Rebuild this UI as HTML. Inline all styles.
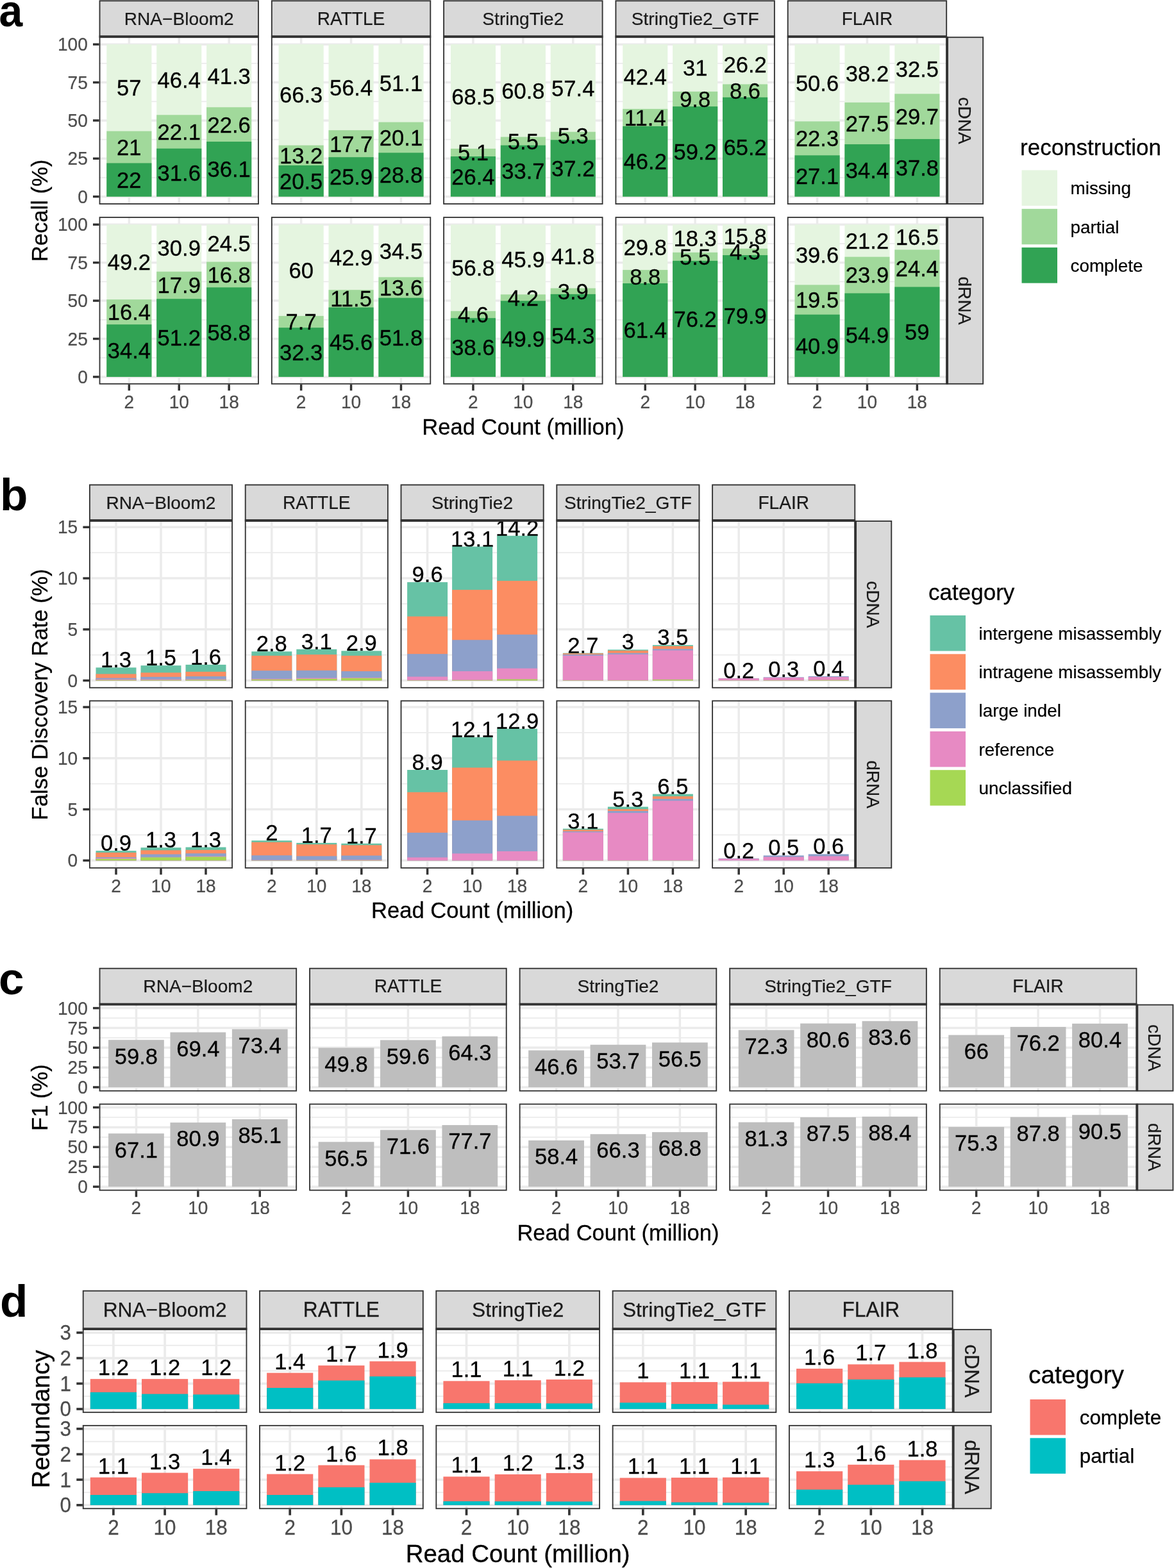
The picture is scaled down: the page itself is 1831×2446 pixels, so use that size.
<!DOCTYPE html>
<html lang="en">
<head>
<meta charset="utf-8">
<title>Figure: transcriptome assembly benchmark</title>
<style>
html,body{margin:0;padding:0;background:#fff;}
body{width:1831px;height:2446px;overflow:hidden;}
svg{display:block;font-family:'Liberation Sans', 'DejaVu Sans', sans-serif;}
svg text{white-space:pre;}
</style>
</head>
<body>
<svg width="1831" height="2446" viewBox="0 0 1831 2446" shape-rendering="auto">
<rect x="0" y="0" width="1831" height="2446" fill="#fff"/>
<g>
<rect x="154.6" y="57.3" width="249.3" height="261.7" fill="#fff"/>
<line x1="154.6" y1="277.01" x2="403.9" y2="277.01" stroke="#EBEBEB" stroke-width="1.75"/>
<line x1="154.6" y1="217.64" x2="403.9" y2="217.64" stroke="#EBEBEB" stroke-width="1.75"/>
<line x1="154.6" y1="158.26" x2="403.9" y2="158.26" stroke="#EBEBEB" stroke-width="1.75"/>
<line x1="154.6" y1="98.89" x2="403.9" y2="98.89" stroke="#EBEBEB" stroke-width="1.75"/>
<line x1="154.6" y1="306.7" x2="403.9" y2="306.7" stroke="#EBEBEB" stroke-width="3.5"/>
<line x1="154.6" y1="247.32" x2="403.9" y2="247.32" stroke="#EBEBEB" stroke-width="3.5"/>
<line x1="154.6" y1="187.95" x2="403.9" y2="187.95" stroke="#EBEBEB" stroke-width="3.5"/>
<line x1="154.6" y1="128.57" x2="403.9" y2="128.57" stroke="#EBEBEB" stroke-width="3.5"/>
<line x1="154.6" y1="69.2" x2="403.9" y2="69.2" stroke="#EBEBEB" stroke-width="3.5"/>
<line x1="201.34" y1="57.3" x2="201.34" y2="319" stroke="#EBEBEB" stroke-width="3.5"/>
<line x1="279.25" y1="57.3" x2="279.25" y2="319" stroke="#EBEBEB" stroke-width="3.5"/>
<line x1="357.16" y1="57.3" x2="357.16" y2="319" stroke="#EBEBEB" stroke-width="3.5"/>
<rect x="166.29" y="69.2" width="70.12" height="237.5" fill="#E5F5E0"/>
<rect x="166.29" y="204.57" width="70.12" height="102.12" fill="#A1D99B"/>
<rect x="166.29" y="254.45" width="70.12" height="52.25" fill="#31A354"/>
<text transform="translate(201.34 292.96) scale(1 1.035)" font-size="34.6" fill="#000" stroke="#000" stroke-width="0.27" text-anchor="middle">22</text>
<text transform="translate(201.34 241.9) scale(1 1.035)" font-size="34.6" fill="#000" stroke="#000" stroke-width="0.27" text-anchor="middle">21</text>
<text transform="translate(201.34 149.27) scale(1 1.035)" font-size="34.6" fill="#000" stroke="#000" stroke-width="0.27" text-anchor="middle">57</text>
<rect x="244.19" y="69.2" width="70.12" height="237.5" fill="#E5F5E0"/>
<rect x="244.19" y="179.29" width="70.12" height="127.41" fill="#A1D99B"/>
<rect x="244.19" y="231.72" width="70.12" height="74.98" fill="#31A354"/>
<text transform="translate(279.25 281.6) scale(1 1.035)" font-size="34.6" fill="#000" stroke="#000" stroke-width="0.27" text-anchor="middle">31.6</text>
<text transform="translate(279.25 217.89) scale(1 1.035)" font-size="34.6" fill="#000" stroke="#000" stroke-width="0.27" text-anchor="middle">22.1</text>
<text transform="translate(279.25 136.63) scale(1 1.035)" font-size="34.6" fill="#000" stroke="#000" stroke-width="0.27" text-anchor="middle">46.4</text>
<rect x="322.1" y="69.2" width="70.12" height="237.5" fill="#E5F5E0"/>
<rect x="322.1" y="167.29" width="70.12" height="139.41" fill="#A1D99B"/>
<rect x="322.1" y="220.96" width="70.12" height="85.74" fill="#31A354"/>
<text transform="translate(357.16 276.22) scale(1 1.035)" font-size="34.6" fill="#000" stroke="#000" stroke-width="0.27" text-anchor="middle">36.1</text>
<text transform="translate(357.16 206.51) scale(1 1.035)" font-size="34.6" fill="#000" stroke="#000" stroke-width="0.27" text-anchor="middle">22.6</text>
<text transform="translate(357.16 130.63) scale(1 1.035)" font-size="34.6" fill="#000" stroke="#000" stroke-width="0.27" text-anchor="middle">41.3</text>
<rect x="155.53" y="58.22" width="247.45" height="259.85" fill="none" stroke="#333333" stroke-width="1.85"/>
<line x1="145" y1="306.7" x2="154.6" y2="306.7" stroke="#333333" stroke-width="3.5"/>
<text transform="translate(136.8 316.76) scale(1 1.035)" font-size="28.1" fill="#4D4D4D" stroke="#4D4D4D" stroke-width="0.22" text-anchor="end">0</text>
<line x1="145" y1="247.32" x2="154.6" y2="247.32" stroke="#333333" stroke-width="3.5"/>
<text transform="translate(136.8 257.38) scale(1 1.035)" font-size="28.1" fill="#4D4D4D" stroke="#4D4D4D" stroke-width="0.22" text-anchor="end">25</text>
<line x1="145" y1="187.95" x2="154.6" y2="187.95" stroke="#333333" stroke-width="3.5"/>
<text transform="translate(136.8 198.01) scale(1 1.035)" font-size="28.1" fill="#4D4D4D" stroke="#4D4D4D" stroke-width="0.22" text-anchor="end">50</text>
<line x1="145" y1="128.57" x2="154.6" y2="128.57" stroke="#333333" stroke-width="3.5"/>
<text transform="translate(136.8 138.63) scale(1 1.035)" font-size="28.1" fill="#4D4D4D" stroke="#4D4D4D" stroke-width="0.22" text-anchor="end">75</text>
<line x1="145" y1="69.2" x2="154.6" y2="69.2" stroke="#333333" stroke-width="3.5"/>
<text transform="translate(136.8 79.26) scale(1 1.035)" font-size="28.1" fill="#4D4D4D" stroke="#4D4D4D" stroke-width="0.22" text-anchor="end">100</text>
<rect x="154.6" y="0.4" width="249.3" height="56.9" fill="#D9D9D9"/>
<rect x="155.53" y="1.33" width="247.45" height="55.05" fill="none" stroke="#333333" stroke-width="1.85"/>
<line x1="154.6" y1="57.3" x2="403.9" y2="57.3" stroke="#333333" stroke-width="3.4"/>
<text x="279.25" y="38.91" font-size="28.1" fill="#1A1A1A" stroke="#1A1A1A" stroke-width="0.22" text-anchor="middle">RNA−Bloom2</text>
<rect x="422.9" y="57.3" width="249.3" height="261.7" fill="#fff"/>
<line x1="422.9" y1="277.01" x2="672.2" y2="277.01" stroke="#EBEBEB" stroke-width="1.75"/>
<line x1="422.9" y1="217.64" x2="672.2" y2="217.64" stroke="#EBEBEB" stroke-width="1.75"/>
<line x1="422.9" y1="158.26" x2="672.2" y2="158.26" stroke="#EBEBEB" stroke-width="1.75"/>
<line x1="422.9" y1="98.89" x2="672.2" y2="98.89" stroke="#EBEBEB" stroke-width="1.75"/>
<line x1="422.9" y1="306.7" x2="672.2" y2="306.7" stroke="#EBEBEB" stroke-width="3.5"/>
<line x1="422.9" y1="247.32" x2="672.2" y2="247.32" stroke="#EBEBEB" stroke-width="3.5"/>
<line x1="422.9" y1="187.95" x2="672.2" y2="187.95" stroke="#EBEBEB" stroke-width="3.5"/>
<line x1="422.9" y1="128.57" x2="672.2" y2="128.57" stroke="#EBEBEB" stroke-width="3.5"/>
<line x1="422.9" y1="69.2" x2="672.2" y2="69.2" stroke="#EBEBEB" stroke-width="3.5"/>
<line x1="469.64" y1="57.3" x2="469.64" y2="319" stroke="#EBEBEB" stroke-width="3.5"/>
<line x1="547.55" y1="57.3" x2="547.55" y2="319" stroke="#EBEBEB" stroke-width="3.5"/>
<line x1="625.46" y1="57.3" x2="625.46" y2="319" stroke="#EBEBEB" stroke-width="3.5"/>
<rect x="434.59" y="69.2" width="70.12" height="237.5" fill="#E5F5E0"/>
<rect x="434.59" y="226.66" width="70.12" height="80.04" fill="#A1D99B"/>
<rect x="434.59" y="258.01" width="70.12" height="48.69" fill="#31A354"/>
<text transform="translate(469.64 294.74) scale(1 1.035)" font-size="34.6" fill="#000" stroke="#000" stroke-width="0.27" text-anchor="middle">20.5</text>
<text transform="translate(469.64 254.72) scale(1 1.035)" font-size="34.6" fill="#000" stroke="#000" stroke-width="0.27" text-anchor="middle">13.2</text>
<text transform="translate(469.64 160.32) scale(1 1.035)" font-size="34.6" fill="#000" stroke="#000" stroke-width="0.27" text-anchor="middle">66.3</text>
<rect x="512.49" y="69.2" width="70.12" height="237.5" fill="#E5F5E0"/>
<rect x="512.49" y="203.15" width="70.12" height="103.55" fill="#A1D99B"/>
<rect x="512.49" y="245.19" width="70.12" height="61.51" fill="#31A354"/>
<text transform="translate(547.55 288.33) scale(1 1.035)" font-size="34.6" fill="#000" stroke="#000" stroke-width="0.27" text-anchor="middle">25.9</text>
<text transform="translate(547.55 236.56) scale(1 1.035)" font-size="34.6" fill="#000" stroke="#000" stroke-width="0.27" text-anchor="middle">17.7</text>
<text transform="translate(547.55 148.56) scale(1 1.035)" font-size="34.6" fill="#000" stroke="#000" stroke-width="0.27" text-anchor="middle">56.4</text>
<rect x="590.4" y="69.2" width="70.12" height="237.5" fill="#E5F5E0"/>
<rect x="590.4" y="190.56" width="70.12" height="116.14" fill="#A1D99B"/>
<rect x="590.4" y="238.3" width="70.12" height="68.4" fill="#31A354"/>
<text transform="translate(625.46 284.89) scale(1 1.035)" font-size="34.6" fill="#000" stroke="#000" stroke-width="0.27" text-anchor="middle">28.8</text>
<text transform="translate(625.46 226.82) scale(1 1.035)" font-size="34.6" fill="#000" stroke="#000" stroke-width="0.27" text-anchor="middle">20.1</text>
<text transform="translate(625.46 142.27) scale(1 1.035)" font-size="34.6" fill="#000" stroke="#000" stroke-width="0.27" text-anchor="middle">51.1</text>
<rect x="423.82" y="58.22" width="247.45" height="259.85" fill="none" stroke="#333333" stroke-width="1.85"/>
<rect x="422.9" y="0.4" width="249.3" height="56.9" fill="#D9D9D9"/>
<rect x="423.82" y="1.33" width="247.45" height="55.05" fill="none" stroke="#333333" stroke-width="1.85"/>
<line x1="422.9" y1="57.3" x2="672.2" y2="57.3" stroke="#333333" stroke-width="3.4"/>
<text transform="translate(547.55 38.91) scale(1 1.045)" font-size="28.1" fill="#1A1A1A" stroke="#1A1A1A" stroke-width="0.22" text-anchor="middle">RATTLE</text>
<rect x="691.2" y="57.3" width="249.3" height="261.7" fill="#fff"/>
<line x1="691.2" y1="277.01" x2="940.5" y2="277.01" stroke="#EBEBEB" stroke-width="1.75"/>
<line x1="691.2" y1="217.64" x2="940.5" y2="217.64" stroke="#EBEBEB" stroke-width="1.75"/>
<line x1="691.2" y1="158.26" x2="940.5" y2="158.26" stroke="#EBEBEB" stroke-width="1.75"/>
<line x1="691.2" y1="98.89" x2="940.5" y2="98.89" stroke="#EBEBEB" stroke-width="1.75"/>
<line x1="691.2" y1="306.7" x2="940.5" y2="306.7" stroke="#EBEBEB" stroke-width="3.5"/>
<line x1="691.2" y1="247.32" x2="940.5" y2="247.32" stroke="#EBEBEB" stroke-width="3.5"/>
<line x1="691.2" y1="187.95" x2="940.5" y2="187.95" stroke="#EBEBEB" stroke-width="3.5"/>
<line x1="691.2" y1="128.57" x2="940.5" y2="128.57" stroke="#EBEBEB" stroke-width="3.5"/>
<line x1="691.2" y1="69.2" x2="940.5" y2="69.2" stroke="#EBEBEB" stroke-width="3.5"/>
<line x1="737.94" y1="57.3" x2="737.94" y2="319" stroke="#EBEBEB" stroke-width="3.5"/>
<line x1="815.85" y1="57.3" x2="815.85" y2="319" stroke="#EBEBEB" stroke-width="3.5"/>
<line x1="893.76" y1="57.3" x2="893.76" y2="319" stroke="#EBEBEB" stroke-width="3.5"/>
<rect x="702.89" y="69.2" width="70.12" height="237.5" fill="#E5F5E0"/>
<rect x="702.89" y="231.89" width="70.12" height="74.81" fill="#A1D99B"/>
<rect x="702.89" y="244" width="70.12" height="62.7" fill="#31A354"/>
<text transform="translate(737.94 287.74) scale(1 1.035)" font-size="34.6" fill="#000" stroke="#000" stroke-width="0.27" text-anchor="middle">26.4</text>
<text transform="translate(737.94 250.33) scale(1 1.035)" font-size="34.6" fill="#000" stroke="#000" stroke-width="0.27" text-anchor="middle">5.1</text>
<text transform="translate(737.94 162.93) scale(1 1.035)" font-size="34.6" fill="#000" stroke="#000" stroke-width="0.27" text-anchor="middle">68.5</text>
<rect x="780.79" y="69.2" width="70.12" height="237.5" fill="#E5F5E0"/>
<rect x="780.79" y="213.6" width="70.12" height="93.1" fill="#A1D99B"/>
<rect x="780.79" y="226.66" width="70.12" height="80.04" fill="#31A354"/>
<text transform="translate(815.85 279.07) scale(1 1.035)" font-size="34.6" fill="#000" stroke="#000" stroke-width="0.27" text-anchor="middle">33.7</text>
<text transform="translate(815.85 232.52) scale(1 1.035)" font-size="34.6" fill="#000" stroke="#000" stroke-width="0.27" text-anchor="middle">5.5</text>
<text transform="translate(815.85 153.79) scale(1 1.035)" font-size="34.6" fill="#000" stroke="#000" stroke-width="0.27" text-anchor="middle">60.8</text>
<rect x="858.7" y="69.2" width="70.12" height="237.5" fill="#E5F5E0"/>
<rect x="858.7" y="205.66" width="70.12" height="101.04" fill="#A1D99B"/>
<rect x="858.7" y="218.26" width="70.12" height="88.44" fill="#31A354"/>
<text transform="translate(893.76 274.87) scale(1 1.035)" font-size="34.6" fill="#000" stroke="#000" stroke-width="0.27" text-anchor="middle">37.2</text>
<text transform="translate(893.76 224.35) scale(1 1.035)" font-size="34.6" fill="#000" stroke="#000" stroke-width="0.27" text-anchor="middle">5.3</text>
<text transform="translate(893.76 149.82) scale(1 1.035)" font-size="34.6" fill="#000" stroke="#000" stroke-width="0.27" text-anchor="middle">57.4</text>
<rect x="692.12" y="58.22" width="247.45" height="259.85" fill="none" stroke="#333333" stroke-width="1.85"/>
<rect x="691.2" y="0.4" width="249.3" height="56.9" fill="#D9D9D9"/>
<rect x="692.12" y="1.33" width="247.45" height="55.05" fill="none" stroke="#333333" stroke-width="1.85"/>
<line x1="691.2" y1="57.3" x2="940.5" y2="57.3" stroke="#333333" stroke-width="3.4"/>
<text x="815.85" y="38.91" font-size="28.1" fill="#1A1A1A" stroke="#1A1A1A" stroke-width="0.22" text-anchor="middle">StringTie2</text>
<rect x="959.5" y="57.3" width="249.3" height="261.7" fill="#fff"/>
<line x1="959.5" y1="277.01" x2="1208.8" y2="277.01" stroke="#EBEBEB" stroke-width="1.75"/>
<line x1="959.5" y1="217.64" x2="1208.8" y2="217.64" stroke="#EBEBEB" stroke-width="1.75"/>
<line x1="959.5" y1="158.26" x2="1208.8" y2="158.26" stroke="#EBEBEB" stroke-width="1.75"/>
<line x1="959.5" y1="98.89" x2="1208.8" y2="98.89" stroke="#EBEBEB" stroke-width="1.75"/>
<line x1="959.5" y1="306.7" x2="1208.8" y2="306.7" stroke="#EBEBEB" stroke-width="3.5"/>
<line x1="959.5" y1="247.32" x2="1208.8" y2="247.32" stroke="#EBEBEB" stroke-width="3.5"/>
<line x1="959.5" y1="187.95" x2="1208.8" y2="187.95" stroke="#EBEBEB" stroke-width="3.5"/>
<line x1="959.5" y1="128.57" x2="1208.8" y2="128.57" stroke="#EBEBEB" stroke-width="3.5"/>
<line x1="959.5" y1="69.2" x2="1208.8" y2="69.2" stroke="#EBEBEB" stroke-width="3.5"/>
<line x1="1006.24" y1="57.3" x2="1006.24" y2="319" stroke="#EBEBEB" stroke-width="3.5"/>
<line x1="1084.15" y1="57.3" x2="1084.15" y2="319" stroke="#EBEBEB" stroke-width="3.5"/>
<line x1="1162.06" y1="57.3" x2="1162.06" y2="319" stroke="#EBEBEB" stroke-width="3.5"/>
<rect x="971.19" y="69.2" width="70.12" height="237.5" fill="#E5F5E0"/>
<rect x="971.19" y="169.9" width="70.12" height="136.8" fill="#A1D99B"/>
<rect x="971.19" y="196.97" width="70.12" height="109.73" fill="#31A354"/>
<text transform="translate(1006.24 264.22) scale(1 1.035)" font-size="34.6" fill="#000" stroke="#000" stroke-width="0.27" text-anchor="middle">46.2</text>
<text transform="translate(1006.24 195.82) scale(1 1.035)" font-size="34.6" fill="#000" stroke="#000" stroke-width="0.27" text-anchor="middle">11.4</text>
<text transform="translate(1006.24 131.94) scale(1 1.035)" font-size="34.6" fill="#000" stroke="#000" stroke-width="0.27" text-anchor="middle">42.4</text>
<rect x="1049.09" y="69.2" width="70.12" height="237.5" fill="#E5F5E0"/>
<rect x="1049.09" y="142.82" width="70.12" height="163.88" fill="#A1D99B"/>
<rect x="1049.09" y="166.1" width="70.12" height="140.6" fill="#31A354"/>
<text transform="translate(1084.15 248.79) scale(1 1.035)" font-size="34.6" fill="#000" stroke="#000" stroke-width="0.27" text-anchor="middle">59.2</text>
<text transform="translate(1084.15 166.85) scale(1 1.035)" font-size="34.6" fill="#000" stroke="#000" stroke-width="0.27" text-anchor="middle">9.8</text>
<text transform="translate(1084.15 118.4) scale(1 1.035)" font-size="34.6" fill="#000" stroke="#000" stroke-width="0.27" text-anchor="middle">31</text>
<rect x="1127" y="69.2" width="70.12" height="237.5" fill="#E5F5E0"/>
<rect x="1127" y="131.42" width="70.12" height="175.28" fill="#A1D99B"/>
<rect x="1127" y="151.85" width="70.12" height="154.85" fill="#31A354"/>
<text transform="translate(1162.06 241.66) scale(1 1.035)" font-size="34.6" fill="#000" stroke="#000" stroke-width="0.27" text-anchor="middle">65.2</text>
<text transform="translate(1162.06 154.02) scale(1 1.035)" font-size="34.6" fill="#000" stroke="#000" stroke-width="0.27" text-anchor="middle">8.6</text>
<text transform="translate(1162.06 112.7) scale(1 1.035)" font-size="34.6" fill="#000" stroke="#000" stroke-width="0.27" text-anchor="middle">26.2</text>
<rect x="960.43" y="58.22" width="247.45" height="259.85" fill="none" stroke="#333333" stroke-width="1.85"/>
<rect x="959.5" y="0.4" width="249.3" height="56.9" fill="#D9D9D9"/>
<rect x="960.43" y="1.33" width="247.45" height="55.05" fill="none" stroke="#333333" stroke-width="1.85"/>
<line x1="959.5" y1="57.3" x2="1208.8" y2="57.3" stroke="#333333" stroke-width="3.4"/>
<text x="1084.15" y="38.91" font-size="28.1" fill="#1A1A1A" stroke="#1A1A1A" stroke-width="0.22" text-anchor="middle">StringTie2_GTF</text>
<rect x="1227.8" y="57.3" width="249.3" height="261.7" fill="#fff"/>
<line x1="1227.8" y1="277.01" x2="1477.1" y2="277.01" stroke="#EBEBEB" stroke-width="1.75"/>
<line x1="1227.8" y1="217.64" x2="1477.1" y2="217.64" stroke="#EBEBEB" stroke-width="1.75"/>
<line x1="1227.8" y1="158.26" x2="1477.1" y2="158.26" stroke="#EBEBEB" stroke-width="1.75"/>
<line x1="1227.8" y1="98.89" x2="1477.1" y2="98.89" stroke="#EBEBEB" stroke-width="1.75"/>
<line x1="1227.8" y1="306.7" x2="1477.1" y2="306.7" stroke="#EBEBEB" stroke-width="3.5"/>
<line x1="1227.8" y1="247.32" x2="1477.1" y2="247.32" stroke="#EBEBEB" stroke-width="3.5"/>
<line x1="1227.8" y1="187.95" x2="1477.1" y2="187.95" stroke="#EBEBEB" stroke-width="3.5"/>
<line x1="1227.8" y1="128.57" x2="1477.1" y2="128.57" stroke="#EBEBEB" stroke-width="3.5"/>
<line x1="1227.8" y1="69.2" x2="1477.1" y2="69.2" stroke="#EBEBEB" stroke-width="3.5"/>
<line x1="1274.54" y1="57.3" x2="1274.54" y2="319" stroke="#EBEBEB" stroke-width="3.5"/>
<line x1="1352.45" y1="57.3" x2="1352.45" y2="319" stroke="#EBEBEB" stroke-width="3.5"/>
<line x1="1430.36" y1="57.3" x2="1430.36" y2="319" stroke="#EBEBEB" stroke-width="3.5"/>
<rect x="1239.49" y="69.2" width="70.12" height="237.5" fill="#E5F5E0"/>
<rect x="1239.49" y="189.37" width="70.12" height="117.33" fill="#A1D99B"/>
<rect x="1239.49" y="242.34" width="70.12" height="64.36" fill="#31A354"/>
<text transform="translate(1274.54 286.91) scale(1 1.035)" font-size="34.6" fill="#000" stroke="#000" stroke-width="0.27" text-anchor="middle">27.1</text>
<text transform="translate(1274.54 228.24) scale(1 1.035)" font-size="34.6" fill="#000" stroke="#000" stroke-width="0.27" text-anchor="middle">22.3</text>
<text transform="translate(1274.54 141.67) scale(1 1.035)" font-size="34.6" fill="#000" stroke="#000" stroke-width="0.27" text-anchor="middle">50.6</text>
<rect x="1317.39" y="69.2" width="70.12" height="237.5" fill="#E5F5E0"/>
<rect x="1317.39" y="159.83" width="70.12" height="146.87" fill="#A1D99B"/>
<rect x="1317.39" y="225.08" width="70.12" height="81.62" fill="#31A354"/>
<text transform="translate(1352.45 278.28) scale(1 1.035)" font-size="34.6" fill="#000" stroke="#000" stroke-width="0.27" text-anchor="middle">34.4</text>
<text transform="translate(1352.45 204.84) scale(1 1.035)" font-size="34.6" fill="#000" stroke="#000" stroke-width="0.27" text-anchor="middle">27.5</text>
<text transform="translate(1352.45 126.9) scale(1 1.035)" font-size="34.6" fill="#000" stroke="#000" stroke-width="0.27" text-anchor="middle">38.2</text>
<rect x="1395.3" y="69.2" width="70.12" height="237.5" fill="#E5F5E0"/>
<rect x="1395.3" y="146.39" width="70.12" height="160.31" fill="#A1D99B"/>
<rect x="1395.3" y="216.93" width="70.12" height="89.77" fill="#31A354"/>
<text transform="translate(1430.36 274.2) scale(1 1.035)" font-size="34.6" fill="#000" stroke="#000" stroke-width="0.27" text-anchor="middle">37.8</text>
<text transform="translate(1430.36 194.04) scale(1 1.035)" font-size="34.6" fill="#000" stroke="#000" stroke-width="0.27" text-anchor="middle">29.7</text>
<text transform="translate(1430.36 120.18) scale(1 1.035)" font-size="34.6" fill="#000" stroke="#000" stroke-width="0.27" text-anchor="middle">32.5</text>
<rect x="1228.72" y="58.22" width="247.45" height="259.85" fill="none" stroke="#333333" stroke-width="1.85"/>
<rect x="1227.8" y="0.4" width="249.3" height="56.9" fill="#D9D9D9"/>
<rect x="1228.72" y="1.33" width="247.45" height="55.05" fill="none" stroke="#333333" stroke-width="1.85"/>
<line x1="1227.8" y1="57.3" x2="1477.1" y2="57.3" stroke="#333333" stroke-width="3.4"/>
<text transform="translate(1352.45 38.91) scale(1 1.045)" font-size="28.1" fill="#1A1A1A" stroke="#1A1A1A" stroke-width="0.22" text-anchor="middle">FLAIR</text>
<rect x="1477.1" y="57.3" width="57" height="261.7" fill="#D9D9D9"/>
<rect x="1478.02" y="58.22" width="55.15" height="259.85" fill="none" stroke="#333333" stroke-width="1.85"/>
<line x1="1477.1" y1="57.3" x2="1477.1" y2="319" stroke="#333333" stroke-width="3.4"/>
<text transform="translate(1494.94 188.15) rotate(90)" font-size="28.1" fill="#1A1A1A" stroke="#1A1A1A" stroke-width="0.22" text-anchor="middle">cDNA</text>
<rect x="154.6" y="338.2" width="249.3" height="261.5" fill="#fff"/>
<line x1="154.6" y1="558.2" x2="403.9" y2="558.2" stroke="#EBEBEB" stroke-width="1.75"/>
<line x1="154.6" y1="498.8" x2="403.9" y2="498.8" stroke="#EBEBEB" stroke-width="1.75"/>
<line x1="154.6" y1="439.4" x2="403.9" y2="439.4" stroke="#EBEBEB" stroke-width="1.75"/>
<line x1="154.6" y1="380" x2="403.9" y2="380" stroke="#EBEBEB" stroke-width="1.75"/>
<line x1="154.6" y1="587.9" x2="403.9" y2="587.9" stroke="#EBEBEB" stroke-width="3.5"/>
<line x1="154.6" y1="528.5" x2="403.9" y2="528.5" stroke="#EBEBEB" stroke-width="3.5"/>
<line x1="154.6" y1="469.1" x2="403.9" y2="469.1" stroke="#EBEBEB" stroke-width="3.5"/>
<line x1="154.6" y1="409.7" x2="403.9" y2="409.7" stroke="#EBEBEB" stroke-width="3.5"/>
<line x1="154.6" y1="350.3" x2="403.9" y2="350.3" stroke="#EBEBEB" stroke-width="3.5"/>
<line x1="201.34" y1="338.2" x2="201.34" y2="599.7" stroke="#EBEBEB" stroke-width="3.5"/>
<line x1="279.25" y1="338.2" x2="279.25" y2="599.7" stroke="#EBEBEB" stroke-width="3.5"/>
<line x1="357.16" y1="338.2" x2="357.16" y2="599.7" stroke="#EBEBEB" stroke-width="3.5"/>
<rect x="166.29" y="350.3" width="70.12" height="237.6" fill="#E5F5E0"/>
<rect x="166.29" y="467.2" width="70.12" height="120.7" fill="#A1D99B"/>
<rect x="166.29" y="506.17" width="70.12" height="81.73" fill="#31A354"/>
<text transform="translate(201.34 559.42) scale(1 1.035)" font-size="34.6" fill="#000" stroke="#000" stroke-width="0.27" text-anchor="middle">34.4</text>
<text transform="translate(201.34 499.07) scale(1 1.035)" font-size="34.6" fill="#000" stroke="#000" stroke-width="0.27" text-anchor="middle">16.4</text>
<text transform="translate(201.34 421.14) scale(1 1.035)" font-size="34.6" fill="#000" stroke="#000" stroke-width="0.27" text-anchor="middle">49.2</text>
<rect x="244.19" y="350.3" width="70.12" height="237.6" fill="#E5F5E0"/>
<rect x="244.19" y="423.72" width="70.12" height="164.18" fill="#A1D99B"/>
<rect x="244.19" y="466.25" width="70.12" height="121.65" fill="#31A354"/>
<text transform="translate(279.25 539.46) scale(1 1.035)" font-size="34.6" fill="#000" stroke="#000" stroke-width="0.27" text-anchor="middle">51.2</text>
<text transform="translate(279.25 457.37) scale(1 1.035)" font-size="34.6" fill="#000" stroke="#000" stroke-width="0.27" text-anchor="middle">17.9</text>
<text transform="translate(279.25 399.4) scale(1 1.035)" font-size="34.6" fill="#000" stroke="#000" stroke-width="0.27" text-anchor="middle">30.9</text>
<rect x="322.1" y="350.3" width="70.12" height="237.6" fill="#E5F5E0"/>
<rect x="322.1" y="408.45" width="70.12" height="179.45" fill="#A1D99B"/>
<rect x="322.1" y="448.33" width="70.12" height="139.57" fill="#31A354"/>
<text transform="translate(357.16 530.5) scale(1 1.035)" font-size="34.6" fill="#000" stroke="#000" stroke-width="0.27" text-anchor="middle">58.8</text>
<text transform="translate(357.16 440.78) scale(1 1.035)" font-size="34.6" fill="#000" stroke="#000" stroke-width="0.27" text-anchor="middle">16.8</text>
<text transform="translate(357.16 391.76) scale(1 1.035)" font-size="34.6" fill="#000" stroke="#000" stroke-width="0.27" text-anchor="middle">24.5</text>
<rect x="155.53" y="339.12" width="247.45" height="259.65" fill="none" stroke="#333333" stroke-width="1.85"/>
<line x1="201.34" y1="599.7" x2="201.34" y2="609.3" stroke="#333333" stroke-width="3.5"/>
<text transform="translate(201.34 636.8) scale(1 1.035)" font-size="28.1" fill="#4D4D4D" stroke="#4D4D4D" stroke-width="0.22" text-anchor="middle">2</text>
<line x1="279.25" y1="599.7" x2="279.25" y2="609.3" stroke="#333333" stroke-width="3.5"/>
<text transform="translate(279.25 636.8) scale(1 1.035)" font-size="28.1" fill="#4D4D4D" stroke="#4D4D4D" stroke-width="0.22" text-anchor="middle">10</text>
<line x1="357.16" y1="599.7" x2="357.16" y2="609.3" stroke="#333333" stroke-width="3.5"/>
<text transform="translate(357.16 636.8) scale(1 1.035)" font-size="28.1" fill="#4D4D4D" stroke="#4D4D4D" stroke-width="0.22" text-anchor="middle">18</text>
<line x1="145" y1="587.9" x2="154.6" y2="587.9" stroke="#333333" stroke-width="3.5"/>
<text transform="translate(136.8 597.96) scale(1 1.035)" font-size="28.1" fill="#4D4D4D" stroke="#4D4D4D" stroke-width="0.22" text-anchor="end">0</text>
<line x1="145" y1="528.5" x2="154.6" y2="528.5" stroke="#333333" stroke-width="3.5"/>
<text transform="translate(136.8 538.56) scale(1 1.035)" font-size="28.1" fill="#4D4D4D" stroke="#4D4D4D" stroke-width="0.22" text-anchor="end">25</text>
<line x1="145" y1="469.1" x2="154.6" y2="469.1" stroke="#333333" stroke-width="3.5"/>
<text transform="translate(136.8 479.16) scale(1 1.035)" font-size="28.1" fill="#4D4D4D" stroke="#4D4D4D" stroke-width="0.22" text-anchor="end">50</text>
<line x1="145" y1="409.7" x2="154.6" y2="409.7" stroke="#333333" stroke-width="3.5"/>
<text transform="translate(136.8 419.76) scale(1 1.035)" font-size="28.1" fill="#4D4D4D" stroke="#4D4D4D" stroke-width="0.22" text-anchor="end">75</text>
<line x1="145" y1="350.3" x2="154.6" y2="350.3" stroke="#333333" stroke-width="3.5"/>
<text transform="translate(136.8 360.36) scale(1 1.035)" font-size="28.1" fill="#4D4D4D" stroke="#4D4D4D" stroke-width="0.22" text-anchor="end">100</text>
<rect x="422.9" y="338.2" width="249.3" height="261.5" fill="#fff"/>
<line x1="422.9" y1="558.2" x2="672.2" y2="558.2" stroke="#EBEBEB" stroke-width="1.75"/>
<line x1="422.9" y1="498.8" x2="672.2" y2="498.8" stroke="#EBEBEB" stroke-width="1.75"/>
<line x1="422.9" y1="439.4" x2="672.2" y2="439.4" stroke="#EBEBEB" stroke-width="1.75"/>
<line x1="422.9" y1="380" x2="672.2" y2="380" stroke="#EBEBEB" stroke-width="1.75"/>
<line x1="422.9" y1="587.9" x2="672.2" y2="587.9" stroke="#EBEBEB" stroke-width="3.5"/>
<line x1="422.9" y1="528.5" x2="672.2" y2="528.5" stroke="#EBEBEB" stroke-width="3.5"/>
<line x1="422.9" y1="469.1" x2="672.2" y2="469.1" stroke="#EBEBEB" stroke-width="3.5"/>
<line x1="422.9" y1="409.7" x2="672.2" y2="409.7" stroke="#EBEBEB" stroke-width="3.5"/>
<line x1="422.9" y1="350.3" x2="672.2" y2="350.3" stroke="#EBEBEB" stroke-width="3.5"/>
<line x1="469.64" y1="338.2" x2="469.64" y2="599.7" stroke="#EBEBEB" stroke-width="3.5"/>
<line x1="547.55" y1="338.2" x2="547.55" y2="599.7" stroke="#EBEBEB" stroke-width="3.5"/>
<line x1="625.46" y1="338.2" x2="625.46" y2="599.7" stroke="#EBEBEB" stroke-width="3.5"/>
<rect x="434.59" y="350.3" width="70.12" height="237.6" fill="#E5F5E0"/>
<rect x="434.59" y="492.86" width="70.12" height="95.04" fill="#A1D99B"/>
<rect x="434.59" y="511.16" width="70.12" height="76.74" fill="#31A354"/>
<text transform="translate(469.64 561.91) scale(1 1.035)" font-size="34.6" fill="#000" stroke="#000" stroke-width="0.27" text-anchor="middle">32.3</text>
<text transform="translate(469.64 514.39) scale(1 1.035)" font-size="34.6" fill="#000" stroke="#000" stroke-width="0.27" text-anchor="middle">7.7</text>
<text transform="translate(469.64 433.97) scale(1 1.035)" font-size="34.6" fill="#000" stroke="#000" stroke-width="0.27" text-anchor="middle">60</text>
<rect x="512.49" y="350.3" width="70.12" height="237.6" fill="#E5F5E0"/>
<rect x="512.49" y="452.23" width="70.12" height="135.67" fill="#A1D99B"/>
<rect x="512.49" y="479.55" width="70.12" height="108.35" fill="#31A354"/>
<text transform="translate(547.55 546.11) scale(1 1.035)" font-size="34.6" fill="#000" stroke="#000" stroke-width="0.27" text-anchor="middle">45.6</text>
<text transform="translate(547.55 478.28) scale(1 1.035)" font-size="34.6" fill="#000" stroke="#000" stroke-width="0.27" text-anchor="middle">11.5</text>
<text transform="translate(547.55 413.65) scale(1 1.035)" font-size="34.6" fill="#000" stroke="#000" stroke-width="0.27" text-anchor="middle">42.9</text>
<rect x="590.4" y="350.3" width="70.12" height="237.6" fill="#E5F5E0"/>
<rect x="590.4" y="432.35" width="70.12" height="155.55" fill="#A1D99B"/>
<rect x="590.4" y="464.7" width="70.12" height="123.2" fill="#31A354"/>
<text transform="translate(625.46 538.69) scale(1 1.035)" font-size="34.6" fill="#000" stroke="#000" stroke-width="0.27" text-anchor="middle">51.8</text>
<text transform="translate(625.46 460.91) scale(1 1.035)" font-size="34.6" fill="#000" stroke="#000" stroke-width="0.27" text-anchor="middle">13.6</text>
<text transform="translate(625.46 403.71) scale(1 1.035)" font-size="34.6" fill="#000" stroke="#000" stroke-width="0.27" text-anchor="middle">34.5</text>
<rect x="423.82" y="339.12" width="247.45" height="259.65" fill="none" stroke="#333333" stroke-width="1.85"/>
<line x1="469.64" y1="599.7" x2="469.64" y2="609.3" stroke="#333333" stroke-width="3.5"/>
<text transform="translate(469.64 636.8) scale(1 1.035)" font-size="28.1" fill="#4D4D4D" stroke="#4D4D4D" stroke-width="0.22" text-anchor="middle">2</text>
<line x1="547.55" y1="599.7" x2="547.55" y2="609.3" stroke="#333333" stroke-width="3.5"/>
<text transform="translate(547.55 636.8) scale(1 1.035)" font-size="28.1" fill="#4D4D4D" stroke="#4D4D4D" stroke-width="0.22" text-anchor="middle">10</text>
<line x1="625.46" y1="599.7" x2="625.46" y2="609.3" stroke="#333333" stroke-width="3.5"/>
<text transform="translate(625.46 636.8) scale(1 1.035)" font-size="28.1" fill="#4D4D4D" stroke="#4D4D4D" stroke-width="0.22" text-anchor="middle">18</text>
<rect x="691.2" y="338.2" width="249.3" height="261.5" fill="#fff"/>
<line x1="691.2" y1="558.2" x2="940.5" y2="558.2" stroke="#EBEBEB" stroke-width="1.75"/>
<line x1="691.2" y1="498.8" x2="940.5" y2="498.8" stroke="#EBEBEB" stroke-width="1.75"/>
<line x1="691.2" y1="439.4" x2="940.5" y2="439.4" stroke="#EBEBEB" stroke-width="1.75"/>
<line x1="691.2" y1="380" x2="940.5" y2="380" stroke="#EBEBEB" stroke-width="1.75"/>
<line x1="691.2" y1="587.9" x2="940.5" y2="587.9" stroke="#EBEBEB" stroke-width="3.5"/>
<line x1="691.2" y1="528.5" x2="940.5" y2="528.5" stroke="#EBEBEB" stroke-width="3.5"/>
<line x1="691.2" y1="469.1" x2="940.5" y2="469.1" stroke="#EBEBEB" stroke-width="3.5"/>
<line x1="691.2" y1="409.7" x2="940.5" y2="409.7" stroke="#EBEBEB" stroke-width="3.5"/>
<line x1="691.2" y1="350.3" x2="940.5" y2="350.3" stroke="#EBEBEB" stroke-width="3.5"/>
<line x1="737.94" y1="338.2" x2="737.94" y2="599.7" stroke="#EBEBEB" stroke-width="3.5"/>
<line x1="815.85" y1="338.2" x2="815.85" y2="599.7" stroke="#EBEBEB" stroke-width="3.5"/>
<line x1="893.76" y1="338.2" x2="893.76" y2="599.7" stroke="#EBEBEB" stroke-width="3.5"/>
<rect x="702.89" y="350.3" width="70.12" height="237.6" fill="#E5F5E0"/>
<rect x="702.89" y="485.26" width="70.12" height="102.64" fill="#A1D99B"/>
<rect x="702.89" y="496.19" width="70.12" height="91.71" fill="#31A354"/>
<text transform="translate(737.94 554.43) scale(1 1.035)" font-size="34.6" fill="#000" stroke="#000" stroke-width="0.27" text-anchor="middle">38.6</text>
<text transform="translate(737.94 503.11) scale(1 1.035)" font-size="34.6" fill="#000" stroke="#000" stroke-width="0.27" text-anchor="middle">4.6</text>
<text transform="translate(737.94 430.17) scale(1 1.035)" font-size="34.6" fill="#000" stroke="#000" stroke-width="0.27" text-anchor="middle">56.8</text>
<rect x="780.79" y="350.3" width="70.12" height="237.6" fill="#E5F5E0"/>
<rect x="780.79" y="459.36" width="70.12" height="128.54" fill="#A1D99B"/>
<rect x="780.79" y="469.34" width="70.12" height="118.56" fill="#31A354"/>
<text transform="translate(815.85 541.01) scale(1 1.035)" font-size="34.6" fill="#000" stroke="#000" stroke-width="0.27" text-anchor="middle">49.9</text>
<text transform="translate(815.85 476.73) scale(1 1.035)" font-size="34.6" fill="#000" stroke="#000" stroke-width="0.27" text-anchor="middle">4.2</text>
<text transform="translate(815.85 417.22) scale(1 1.035)" font-size="34.6" fill="#000" stroke="#000" stroke-width="0.27" text-anchor="middle">45.9</text>
<rect x="858.7" y="350.3" width="70.12" height="237.6" fill="#E5F5E0"/>
<rect x="858.7" y="449.62" width="70.12" height="138.28" fill="#A1D99B"/>
<rect x="858.7" y="458.88" width="70.12" height="129.02" fill="#31A354"/>
<text transform="translate(893.76 535.78) scale(1 1.035)" font-size="34.6" fill="#000" stroke="#000" stroke-width="0.27" text-anchor="middle">54.3</text>
<text transform="translate(893.76 466.64) scale(1 1.035)" font-size="34.6" fill="#000" stroke="#000" stroke-width="0.27" text-anchor="middle">3.9</text>
<text transform="translate(893.76 412.35) scale(1 1.035)" font-size="34.6" fill="#000" stroke="#000" stroke-width="0.27" text-anchor="middle">41.8</text>
<rect x="692.12" y="339.12" width="247.45" height="259.65" fill="none" stroke="#333333" stroke-width="1.85"/>
<line x1="737.94" y1="599.7" x2="737.94" y2="609.3" stroke="#333333" stroke-width="3.5"/>
<text transform="translate(737.94 636.8) scale(1 1.035)" font-size="28.1" fill="#4D4D4D" stroke="#4D4D4D" stroke-width="0.22" text-anchor="middle">2</text>
<line x1="815.85" y1="599.7" x2="815.85" y2="609.3" stroke="#333333" stroke-width="3.5"/>
<text transform="translate(815.85 636.8) scale(1 1.035)" font-size="28.1" fill="#4D4D4D" stroke="#4D4D4D" stroke-width="0.22" text-anchor="middle">10</text>
<line x1="893.76" y1="599.7" x2="893.76" y2="609.3" stroke="#333333" stroke-width="3.5"/>
<text transform="translate(893.76 636.8) scale(1 1.035)" font-size="28.1" fill="#4D4D4D" stroke="#4D4D4D" stroke-width="0.22" text-anchor="middle">18</text>
<rect x="959.5" y="338.2" width="249.3" height="261.5" fill="#fff"/>
<line x1="959.5" y1="558.2" x2="1208.8" y2="558.2" stroke="#EBEBEB" stroke-width="1.75"/>
<line x1="959.5" y1="498.8" x2="1208.8" y2="498.8" stroke="#EBEBEB" stroke-width="1.75"/>
<line x1="959.5" y1="439.4" x2="1208.8" y2="439.4" stroke="#EBEBEB" stroke-width="1.75"/>
<line x1="959.5" y1="380" x2="1208.8" y2="380" stroke="#EBEBEB" stroke-width="1.75"/>
<line x1="959.5" y1="587.9" x2="1208.8" y2="587.9" stroke="#EBEBEB" stroke-width="3.5"/>
<line x1="959.5" y1="528.5" x2="1208.8" y2="528.5" stroke="#EBEBEB" stroke-width="3.5"/>
<line x1="959.5" y1="469.1" x2="1208.8" y2="469.1" stroke="#EBEBEB" stroke-width="3.5"/>
<line x1="959.5" y1="409.7" x2="1208.8" y2="409.7" stroke="#EBEBEB" stroke-width="3.5"/>
<line x1="959.5" y1="350.3" x2="1208.8" y2="350.3" stroke="#EBEBEB" stroke-width="3.5"/>
<line x1="1006.24" y1="338.2" x2="1006.24" y2="599.7" stroke="#EBEBEB" stroke-width="3.5"/>
<line x1="1084.15" y1="338.2" x2="1084.15" y2="599.7" stroke="#EBEBEB" stroke-width="3.5"/>
<line x1="1162.06" y1="338.2" x2="1162.06" y2="599.7" stroke="#EBEBEB" stroke-width="3.5"/>
<rect x="971.19" y="350.3" width="70.12" height="237.6" fill="#E5F5E0"/>
<rect x="971.19" y="421.1" width="70.12" height="166.8" fill="#A1D99B"/>
<rect x="971.19" y="442.01" width="70.12" height="145.89" fill="#31A354"/>
<text transform="translate(1006.24 527.34) scale(1 1.035)" font-size="34.6" fill="#000" stroke="#000" stroke-width="0.27" text-anchor="middle">61.4</text>
<text transform="translate(1006.24 443.95) scale(1 1.035)" font-size="34.6" fill="#000" stroke="#000" stroke-width="0.27" text-anchor="middle">8.8</text>
<text transform="translate(1006.24 398.09) scale(1 1.035)" font-size="34.6" fill="#000" stroke="#000" stroke-width="0.27" text-anchor="middle">29.8</text>
<rect x="1049.09" y="350.3" width="70.12" height="237.6" fill="#E5F5E0"/>
<rect x="1049.09" y="393.78" width="70.12" height="194.12" fill="#A1D99B"/>
<rect x="1049.09" y="406.85" width="70.12" height="181.05" fill="#31A354"/>
<text transform="translate(1084.15 509.76) scale(1 1.035)" font-size="34.6" fill="#000" stroke="#000" stroke-width="0.27" text-anchor="middle">76.2</text>
<text transform="translate(1084.15 412.7) scale(1 1.035)" font-size="34.6" fill="#000" stroke="#000" stroke-width="0.27" text-anchor="middle">5.5</text>
<text transform="translate(1084.15 384.43) scale(1 1.035)" font-size="34.6" fill="#000" stroke="#000" stroke-width="0.27" text-anchor="middle">18.3</text>
<rect x="1127" y="350.3" width="70.12" height="237.6" fill="#E5F5E0"/>
<rect x="1127" y="387.84" width="70.12" height="200.06" fill="#A1D99B"/>
<rect x="1127" y="398.06" width="70.12" height="189.84" fill="#31A354"/>
<text transform="translate(1162.06 505.37) scale(1 1.035)" font-size="34.6" fill="#000" stroke="#000" stroke-width="0.27" text-anchor="middle">79.9</text>
<text transform="translate(1162.06 405.34) scale(1 1.035)" font-size="34.6" fill="#000" stroke="#000" stroke-width="0.27" text-anchor="middle">4.3</text>
<text transform="translate(1162.06 381.46) scale(1 1.035)" font-size="34.6" fill="#000" stroke="#000" stroke-width="0.27" text-anchor="middle">15.8</text>
<rect x="960.43" y="339.12" width="247.45" height="259.65" fill="none" stroke="#333333" stroke-width="1.85"/>
<line x1="1006.24" y1="599.7" x2="1006.24" y2="609.3" stroke="#333333" stroke-width="3.5"/>
<text transform="translate(1006.24 636.8) scale(1 1.035)" font-size="28.1" fill="#4D4D4D" stroke="#4D4D4D" stroke-width="0.22" text-anchor="middle">2</text>
<line x1="1084.15" y1="599.7" x2="1084.15" y2="609.3" stroke="#333333" stroke-width="3.5"/>
<text transform="translate(1084.15 636.8) scale(1 1.035)" font-size="28.1" fill="#4D4D4D" stroke="#4D4D4D" stroke-width="0.22" text-anchor="middle">10</text>
<line x1="1162.06" y1="599.7" x2="1162.06" y2="609.3" stroke="#333333" stroke-width="3.5"/>
<text transform="translate(1162.06 636.8) scale(1 1.035)" font-size="28.1" fill="#4D4D4D" stroke="#4D4D4D" stroke-width="0.22" text-anchor="middle">18</text>
<rect x="1227.8" y="338.2" width="249.3" height="261.5" fill="#fff"/>
<line x1="1227.8" y1="558.2" x2="1477.1" y2="558.2" stroke="#EBEBEB" stroke-width="1.75"/>
<line x1="1227.8" y1="498.8" x2="1477.1" y2="498.8" stroke="#EBEBEB" stroke-width="1.75"/>
<line x1="1227.8" y1="439.4" x2="1477.1" y2="439.4" stroke="#EBEBEB" stroke-width="1.75"/>
<line x1="1227.8" y1="380" x2="1477.1" y2="380" stroke="#EBEBEB" stroke-width="1.75"/>
<line x1="1227.8" y1="587.9" x2="1477.1" y2="587.9" stroke="#EBEBEB" stroke-width="3.5"/>
<line x1="1227.8" y1="528.5" x2="1477.1" y2="528.5" stroke="#EBEBEB" stroke-width="3.5"/>
<line x1="1227.8" y1="469.1" x2="1477.1" y2="469.1" stroke="#EBEBEB" stroke-width="3.5"/>
<line x1="1227.8" y1="409.7" x2="1477.1" y2="409.7" stroke="#EBEBEB" stroke-width="3.5"/>
<line x1="1227.8" y1="350.3" x2="1477.1" y2="350.3" stroke="#EBEBEB" stroke-width="3.5"/>
<line x1="1274.54" y1="338.2" x2="1274.54" y2="599.7" stroke="#EBEBEB" stroke-width="3.5"/>
<line x1="1352.45" y1="338.2" x2="1352.45" y2="599.7" stroke="#EBEBEB" stroke-width="3.5"/>
<line x1="1430.36" y1="338.2" x2="1430.36" y2="599.7" stroke="#EBEBEB" stroke-width="3.5"/>
<rect x="1239.49" y="350.3" width="70.12" height="237.6" fill="#E5F5E0"/>
<rect x="1239.49" y="444.39" width="70.12" height="143.51" fill="#A1D99B"/>
<rect x="1239.49" y="490.72" width="70.12" height="97.18" fill="#31A354"/>
<text transform="translate(1274.54 551.7) scale(1 1.035)" font-size="34.6" fill="#000" stroke="#000" stroke-width="0.27" text-anchor="middle">40.9</text>
<text transform="translate(1274.54 479.94) scale(1 1.035)" font-size="34.6" fill="#000" stroke="#000" stroke-width="0.27" text-anchor="middle">19.5</text>
<text transform="translate(1274.54 409.73) scale(1 1.035)" font-size="34.6" fill="#000" stroke="#000" stroke-width="0.27" text-anchor="middle">39.6</text>
<rect x="1317.39" y="350.3" width="70.12" height="237.6" fill="#E5F5E0"/>
<rect x="1317.39" y="400.67" width="70.12" height="187.23" fill="#A1D99B"/>
<rect x="1317.39" y="457.46" width="70.12" height="130.44" fill="#31A354"/>
<text transform="translate(1352.45 535.07) scale(1 1.035)" font-size="34.6" fill="#000" stroke="#000" stroke-width="0.27" text-anchor="middle">54.9</text>
<text transform="translate(1352.45 441.45) scale(1 1.035)" font-size="34.6" fill="#000" stroke="#000" stroke-width="0.27" text-anchor="middle">23.9</text>
<text transform="translate(1352.45 387.87) scale(1 1.035)" font-size="34.6" fill="#000" stroke="#000" stroke-width="0.27" text-anchor="middle">21.2</text>
<rect x="1395.3" y="350.3" width="70.12" height="237.6" fill="#E5F5E0"/>
<rect x="1395.3" y="389.54" width="70.12" height="198.36" fill="#A1D99B"/>
<rect x="1395.3" y="447.58" width="70.12" height="140.32" fill="#31A354"/>
<text transform="translate(1430.36 530.12) scale(1 1.035)" font-size="34.6" fill="#000" stroke="#000" stroke-width="0.27" text-anchor="middle">59</text>
<text transform="translate(1430.36 430.95) scale(1 1.035)" font-size="34.6" fill="#000" stroke="#000" stroke-width="0.27" text-anchor="middle">24.4</text>
<text transform="translate(1430.36 382.31) scale(1 1.035)" font-size="34.6" fill="#000" stroke="#000" stroke-width="0.27" text-anchor="middle">16.5</text>
<rect x="1228.72" y="339.12" width="247.45" height="259.65" fill="none" stroke="#333333" stroke-width="1.85"/>
<line x1="1274.54" y1="599.7" x2="1274.54" y2="609.3" stroke="#333333" stroke-width="3.5"/>
<text transform="translate(1274.54 636.8) scale(1 1.035)" font-size="28.1" fill="#4D4D4D" stroke="#4D4D4D" stroke-width="0.22" text-anchor="middle">2</text>
<line x1="1352.45" y1="599.7" x2="1352.45" y2="609.3" stroke="#333333" stroke-width="3.5"/>
<text transform="translate(1352.45 636.8) scale(1 1.035)" font-size="28.1" fill="#4D4D4D" stroke="#4D4D4D" stroke-width="0.22" text-anchor="middle">10</text>
<line x1="1430.36" y1="599.7" x2="1430.36" y2="609.3" stroke="#333333" stroke-width="3.5"/>
<text transform="translate(1430.36 636.8) scale(1 1.035)" font-size="28.1" fill="#4D4D4D" stroke="#4D4D4D" stroke-width="0.22" text-anchor="middle">18</text>
<rect x="1477.1" y="338.2" width="57" height="261.5" fill="#D9D9D9"/>
<rect x="1478.02" y="339.12" width="55.15" height="259.65" fill="none" stroke="#333333" stroke-width="1.85"/>
<line x1="1477.1" y1="338.2" x2="1477.1" y2="599.7" stroke="#333333" stroke-width="3.4"/>
<text transform="translate(1494.94 468.95) rotate(90)" font-size="28.1" fill="#1A1A1A" stroke="#1A1A1A" stroke-width="0.22" text-anchor="middle">dRNA</text>
<text x="815.85" y="678" font-size="34.6" fill="#000" stroke="#000" stroke-width="0.27" text-anchor="middle">Read Count (million)</text>
<text transform="translate(73.5 328.5) rotate(-90)" font-size="34.6" fill="#000" stroke="#000" stroke-width="0.27" text-anchor="middle">Recall (%)</text>
<text transform="translate(-1.6 41.3) scale(0.93 1)" font-size="71" fill="#000" font-weight="bold">a</text>
<text x="1591" y="242" font-size="35.02" fill="#000" stroke="#000" stroke-width="0.28">reconstruction</text>
<rect x="1593.5" y="265.5" width="55.5" height="55.5" fill="#E5F5E0"/>
<text x="1669.5" y="303.31" font-size="27.85" fill="#000" stroke="#000" stroke-width="0.22">missing</text>
<rect x="1593.5" y="325.8" width="55.5" height="55.5" fill="#A1D99B"/>
<text x="1669.5" y="363.61" font-size="27.85" fill="#000" stroke="#000" stroke-width="0.22">partial</text>
<rect x="1593.5" y="386.1" width="55.5" height="55.5" fill="#31A354"/>
<text x="1669.5" y="423.91" font-size="27.85" fill="#000" stroke="#000" stroke-width="0.22">complete</text>
</g>
<g>
<rect x="139" y="812" width="224" height="261.7" fill="#fff"/>
<line x1="139" y1="1021.72" x2="363" y2="1021.72" stroke="#EBEBEB" stroke-width="1.75"/>
<line x1="139" y1="941.97" x2="363" y2="941.97" stroke="#EBEBEB" stroke-width="1.75"/>
<line x1="139" y1="862.22" x2="363" y2="862.22" stroke="#EBEBEB" stroke-width="1.75"/>
<line x1="139" y1="1061.6" x2="363" y2="1061.6" stroke="#EBEBEB" stroke-width="3.5"/>
<line x1="139" y1="981.85" x2="363" y2="981.85" stroke="#EBEBEB" stroke-width="3.5"/>
<line x1="139" y1="902.1" x2="363" y2="902.1" stroke="#EBEBEB" stroke-width="3.5"/>
<line x1="139" y1="822.35" x2="363" y2="822.35" stroke="#EBEBEB" stroke-width="3.5"/>
<line x1="181" y1="812" x2="181" y2="1073.7" stroke="#EBEBEB" stroke-width="3.5"/>
<line x1="251" y1="812" x2="251" y2="1073.7" stroke="#EBEBEB" stroke-width="3.5"/>
<line x1="321" y1="812" x2="321" y2="1073.7" stroke="#EBEBEB" stroke-width="3.5"/>
<text transform="translate(181 1041.34) scale(1 1.035)" font-size="34.6" fill="#000" stroke="#000" stroke-width="0.27" text-anchor="middle">1.3</text>
<rect x="149.5" y="1041.34" width="63" height="20.26" fill="#66C2A5"/>
<rect x="149.5" y="1051.39" width="63" height="10.21" fill="#FC8D62"/>
<rect x="149.5" y="1057.61" width="63" height="3.99" fill="#8DA0CB"/>
<rect x="149.5" y="1059.61" width="63" height="1.99" fill="#E78AC3"/>
<rect x="149.5" y="1060.64" width="63" height="0.96" fill="#A6D854"/>
<text transform="translate(251 1038.15) scale(1 1.035)" font-size="34.6" fill="#000" stroke="#000" stroke-width="0.27" text-anchor="middle">1.5</text>
<rect x="219.5" y="1038.15" width="63" height="23.45" fill="#66C2A5"/>
<rect x="219.5" y="1049.32" width="63" height="12.28" fill="#FC8D62"/>
<rect x="219.5" y="1055.86" width="63" height="5.74" fill="#8DA0CB"/>
<rect x="219.5" y="1059.61" width="63" height="1.99" fill="#E78AC3"/>
<rect x="219.5" y="1060.64" width="63" height="0.96" fill="#A6D854"/>
<text transform="translate(321 1036.88) scale(1 1.035)" font-size="34.6" fill="#000" stroke="#000" stroke-width="0.27" text-anchor="middle">1.6</text>
<rect x="289.5" y="1036.88" width="63" height="24.72" fill="#66C2A5"/>
<rect x="289.5" y="1047.88" width="63" height="13.72" fill="#FC8D62"/>
<rect x="289.5" y="1055.06" width="63" height="6.54" fill="#8DA0CB"/>
<rect x="289.5" y="1059.37" width="63" height="2.23" fill="#E78AC3"/>
<rect x="289.5" y="1060.32" width="63" height="1.28" fill="#A6D854"/>
<rect x="139.93" y="812.92" width="222.15" height="259.85" fill="none" stroke="#333333" stroke-width="1.85"/>
<line x1="129.4" y1="1061.6" x2="139" y2="1061.6" stroke="#333333" stroke-width="3.5"/>
<text transform="translate(121.2 1071.66) scale(1 1.035)" font-size="28.1" fill="#4D4D4D" stroke="#4D4D4D" stroke-width="0.22" text-anchor="end">0</text>
<line x1="129.4" y1="981.85" x2="139" y2="981.85" stroke="#333333" stroke-width="3.5"/>
<text transform="translate(121.2 991.91) scale(1 1.035)" font-size="28.1" fill="#4D4D4D" stroke="#4D4D4D" stroke-width="0.22" text-anchor="end">5</text>
<line x1="129.4" y1="902.1" x2="139" y2="902.1" stroke="#333333" stroke-width="3.5"/>
<text transform="translate(121.2 912.16) scale(1 1.035)" font-size="28.1" fill="#4D4D4D" stroke="#4D4D4D" stroke-width="0.22" text-anchor="end">10</text>
<line x1="129.4" y1="822.35" x2="139" y2="822.35" stroke="#333333" stroke-width="3.5"/>
<text transform="translate(121.2 832.41) scale(1 1.035)" font-size="28.1" fill="#4D4D4D" stroke="#4D4D4D" stroke-width="0.22" text-anchor="end">15</text>
<rect x="139" y="755.5" width="224" height="56.5" fill="#D9D9D9"/>
<rect x="139.93" y="756.42" width="222.15" height="54.65" fill="none" stroke="#333333" stroke-width="1.85"/>
<line x1="139" y1="812" x2="363" y2="812" stroke="#333333" stroke-width="3.4"/>
<text x="251" y="793.81" font-size="28.1" fill="#1A1A1A" stroke="#1A1A1A" stroke-width="0.22" text-anchor="middle">RNA−Bloom2</text>
<rect x="381.8" y="812" width="224" height="261.7" fill="#fff"/>
<line x1="381.8" y1="1021.72" x2="605.8" y2="1021.72" stroke="#EBEBEB" stroke-width="1.75"/>
<line x1="381.8" y1="941.97" x2="605.8" y2="941.97" stroke="#EBEBEB" stroke-width="1.75"/>
<line x1="381.8" y1="862.22" x2="605.8" y2="862.22" stroke="#EBEBEB" stroke-width="1.75"/>
<line x1="381.8" y1="1061.6" x2="605.8" y2="1061.6" stroke="#EBEBEB" stroke-width="3.5"/>
<line x1="381.8" y1="981.85" x2="605.8" y2="981.85" stroke="#EBEBEB" stroke-width="3.5"/>
<line x1="381.8" y1="902.1" x2="605.8" y2="902.1" stroke="#EBEBEB" stroke-width="3.5"/>
<line x1="381.8" y1="822.35" x2="605.8" y2="822.35" stroke="#EBEBEB" stroke-width="3.5"/>
<line x1="423.8" y1="812" x2="423.8" y2="1073.7" stroke="#EBEBEB" stroke-width="3.5"/>
<line x1="493.8" y1="812" x2="493.8" y2="1073.7" stroke="#EBEBEB" stroke-width="3.5"/>
<line x1="563.8" y1="812" x2="563.8" y2="1073.7" stroke="#EBEBEB" stroke-width="3.5"/>
<text transform="translate(423.8 1016.3) scale(1 1.035)" font-size="34.6" fill="#000" stroke="#000" stroke-width="0.27" text-anchor="middle">2.8</text>
<rect x="392.3" y="1016.3" width="63" height="45.3" fill="#66C2A5"/>
<rect x="392.3" y="1022.84" width="63" height="38.76" fill="#FC8D62"/>
<rect x="392.3" y="1046.13" width="63" height="15.47" fill="#8DA0CB"/>
<rect x="392.3" y="1058.89" width="63" height="2.71" fill="#E78AC3"/>
<rect x="392.3" y="1059.85" width="63" height="1.75" fill="#A6D854"/>
<text transform="translate(493.8 1012.79) scale(1 1.035)" font-size="34.6" fill="#000" stroke="#000" stroke-width="0.27" text-anchor="middle">3.1</text>
<rect x="462.3" y="1012.79" width="63" height="48.81" fill="#66C2A5"/>
<rect x="462.3" y="1021.09" width="63" height="40.51" fill="#FC8D62"/>
<rect x="462.3" y="1045.81" width="63" height="15.79" fill="#8DA0CB"/>
<rect x="462.3" y="1057.61" width="63" height="3.99" fill="#E78AC3"/>
<rect x="462.3" y="1058.89" width="63" height="2.71" fill="#A6D854"/>
<text transform="translate(563.8 1015.34) scale(1 1.035)" font-size="34.6" fill="#000" stroke="#000" stroke-width="0.27" text-anchor="middle">2.9</text>
<rect x="532.3" y="1015.34" width="63" height="46.25" fill="#66C2A5"/>
<rect x="532.3" y="1022.84" width="63" height="38.76" fill="#FC8D62"/>
<rect x="532.3" y="1047.09" width="63" height="14.51" fill="#8DA0CB"/>
<rect x="532.3" y="1057.13" width="63" height="4.47" fill="#E78AC3"/>
<rect x="532.3" y="1057.85" width="63" height="3.75" fill="#A6D854"/>
<rect x="382.73" y="812.92" width="222.15" height="259.85" fill="none" stroke="#333333" stroke-width="1.85"/>
<rect x="381.8" y="755.5" width="224" height="56.5" fill="#D9D9D9"/>
<rect x="382.73" y="756.42" width="222.15" height="54.65" fill="none" stroke="#333333" stroke-width="1.85"/>
<line x1="381.8" y1="812" x2="605.8" y2="812" stroke="#333333" stroke-width="3.4"/>
<text transform="translate(493.8 793.81) scale(1 1.045)" font-size="28.1" fill="#1A1A1A" stroke="#1A1A1A" stroke-width="0.22" text-anchor="middle">RATTLE</text>
<rect x="624.6" y="812" width="224" height="261.7" fill="#fff"/>
<line x1="624.6" y1="1021.72" x2="848.6" y2="1021.72" stroke="#EBEBEB" stroke-width="1.75"/>
<line x1="624.6" y1="941.97" x2="848.6" y2="941.97" stroke="#EBEBEB" stroke-width="1.75"/>
<line x1="624.6" y1="862.22" x2="848.6" y2="862.22" stroke="#EBEBEB" stroke-width="1.75"/>
<line x1="624.6" y1="1061.6" x2="848.6" y2="1061.6" stroke="#EBEBEB" stroke-width="3.5"/>
<line x1="624.6" y1="981.85" x2="848.6" y2="981.85" stroke="#EBEBEB" stroke-width="3.5"/>
<line x1="624.6" y1="902.1" x2="848.6" y2="902.1" stroke="#EBEBEB" stroke-width="3.5"/>
<line x1="624.6" y1="822.35" x2="848.6" y2="822.35" stroke="#EBEBEB" stroke-width="3.5"/>
<line x1="666.6" y1="812" x2="666.6" y2="1073.7" stroke="#EBEBEB" stroke-width="3.5"/>
<line x1="736.6" y1="812" x2="736.6" y2="1073.7" stroke="#EBEBEB" stroke-width="3.5"/>
<line x1="806.6" y1="812" x2="806.6" y2="1073.7" stroke="#EBEBEB" stroke-width="3.5"/>
<text transform="translate(666.6 908.16) scale(1 1.035)" font-size="34.6" fill="#000" stroke="#000" stroke-width="0.27" text-anchor="middle">9.6</text>
<rect x="635.1" y="908.16" width="63" height="153.44" fill="#66C2A5"/>
<rect x="635.1" y="961.59" width="63" height="100.01" fill="#FC8D62"/>
<rect x="635.1" y="1020.13" width="63" height="41.47" fill="#8DA0CB"/>
<rect x="635.1" y="1055.6" width="63" height="6" fill="#E78AC3"/>
<rect x="635.1" y="1061.12" width="63" height="0.48" fill="#A6D854"/>
<text transform="translate(736.6 852.65) scale(1 1.035)" font-size="34.6" fill="#000" stroke="#000" stroke-width="0.27" text-anchor="middle">13.1</text>
<rect x="705.1" y="852.65" width="63" height="208.94" fill="#66C2A5"/>
<rect x="705.1" y="920.12" width="63" height="141.48" fill="#FC8D62"/>
<rect x="705.1" y="998.28" width="63" height="63.32" fill="#8DA0CB"/>
<rect x="705.1" y="1047.09" width="63" height="14.51" fill="#E78AC3"/>
<rect x="705.1" y="1060.8" width="63" height="0.8" fill="#A6D854"/>
<text transform="translate(806.6 835.75) scale(1 1.035)" font-size="34.6" fill="#000" stroke="#000" stroke-width="0.27" text-anchor="middle">14.2</text>
<rect x="775.1" y="835.75" width="63" height="225.85" fill="#66C2A5"/>
<rect x="775.1" y="906.09" width="63" height="155.51" fill="#FC8D62"/>
<rect x="775.1" y="989.82" width="63" height="71.77" fill="#8DA0CB"/>
<rect x="775.1" y="1042.62" width="63" height="18.98" fill="#E78AC3"/>
<rect x="775.1" y="1059.61" width="63" height="1.99" fill="#A6D854"/>
<rect x="625.52" y="812.92" width="222.15" height="259.85" fill="none" stroke="#333333" stroke-width="1.85"/>
<rect x="624.6" y="755.5" width="224" height="56.5" fill="#D9D9D9"/>
<rect x="625.52" y="756.42" width="222.15" height="54.65" fill="none" stroke="#333333" stroke-width="1.85"/>
<line x1="624.6" y1="812" x2="848.6" y2="812" stroke="#333333" stroke-width="3.4"/>
<text x="736.6" y="793.81" font-size="28.1" fill="#1A1A1A" stroke="#1A1A1A" stroke-width="0.22" text-anchor="middle">StringTie2</text>
<rect x="867.4" y="812" width="224" height="261.7" fill="#fff"/>
<line x1="867.4" y1="1021.72" x2="1091.4" y2="1021.72" stroke="#EBEBEB" stroke-width="1.75"/>
<line x1="867.4" y1="941.97" x2="1091.4" y2="941.97" stroke="#EBEBEB" stroke-width="1.75"/>
<line x1="867.4" y1="862.22" x2="1091.4" y2="862.22" stroke="#EBEBEB" stroke-width="1.75"/>
<line x1="867.4" y1="1061.6" x2="1091.4" y2="1061.6" stroke="#EBEBEB" stroke-width="3.5"/>
<line x1="867.4" y1="981.85" x2="1091.4" y2="981.85" stroke="#EBEBEB" stroke-width="3.5"/>
<line x1="867.4" y1="902.1" x2="1091.4" y2="902.1" stroke="#EBEBEB" stroke-width="3.5"/>
<line x1="867.4" y1="822.35" x2="1091.4" y2="822.35" stroke="#EBEBEB" stroke-width="3.5"/>
<line x1="909.4" y1="812" x2="909.4" y2="1073.7" stroke="#EBEBEB" stroke-width="3.5"/>
<line x1="979.4" y1="812" x2="979.4" y2="1073.7" stroke="#EBEBEB" stroke-width="3.5"/>
<line x1="1049.4" y1="812" x2="1049.4" y2="1073.7" stroke="#EBEBEB" stroke-width="3.5"/>
<text transform="translate(909.4 1018.69) scale(1 1.035)" font-size="34.6" fill="#000" stroke="#000" stroke-width="0.27" text-anchor="middle">2.7</text>
<rect x="877.9" y="1018.69" width="63" height="42.91" fill="#66C2A5"/>
<rect x="877.9" y="1019.33" width="63" height="42.27" fill="#FC8D62"/>
<rect x="877.9" y="1020.93" width="63" height="40.67" fill="#8DA0CB"/>
<rect x="877.9" y="1022.68" width="63" height="38.92" fill="#E78AC3"/>
<rect x="877.9" y="1061.12" width="63" height="0.48" fill="#A6D854"/>
<text transform="translate(979.4 1013.43) scale(1 1.035)" font-size="34.6" fill="#000" stroke="#000" stroke-width="0.27" text-anchor="middle">3</text>
<rect x="947.9" y="1013.43" width="63" height="48.17" fill="#66C2A5"/>
<rect x="947.9" y="1014.87" width="63" height="46.73" fill="#FC8D62"/>
<rect x="947.9" y="1018.69" width="63" height="42.91" fill="#8DA0CB"/>
<rect x="947.9" y="1020.77" width="63" height="40.83" fill="#E78AC3"/>
<rect x="947.9" y="1061.12" width="63" height="0.48" fill="#A6D854"/>
<text transform="translate(1049.4 1006.25) scale(1 1.035)" font-size="34.6" fill="#000" stroke="#000" stroke-width="0.27" text-anchor="middle">3.5</text>
<rect x="1017.9" y="1006.25" width="63" height="55.35" fill="#66C2A5"/>
<rect x="1017.9" y="1008.01" width="63" height="53.59" fill="#FC8D62"/>
<rect x="1017.9" y="1012.31" width="63" height="49.29" fill="#8DA0CB"/>
<rect x="1017.9" y="1014.55" width="63" height="47.05" fill="#E78AC3"/>
<rect x="1017.9" y="1060.16" width="63" height="1.44" fill="#A6D854"/>
<rect x="868.33" y="812.92" width="222.15" height="259.85" fill="none" stroke="#333333" stroke-width="1.85"/>
<rect x="867.4" y="755.5" width="224" height="56.5" fill="#D9D9D9"/>
<rect x="868.33" y="756.42" width="222.15" height="54.65" fill="none" stroke="#333333" stroke-width="1.85"/>
<line x1="867.4" y1="812" x2="1091.4" y2="812" stroke="#333333" stroke-width="3.4"/>
<text x="979.4" y="793.81" font-size="28.1" fill="#1A1A1A" stroke="#1A1A1A" stroke-width="0.22" text-anchor="middle">StringTie2_GTF</text>
<rect x="1110.2" y="812" width="224" height="261.7" fill="#fff"/>
<line x1="1110.2" y1="1021.72" x2="1334.2" y2="1021.72" stroke="#EBEBEB" stroke-width="1.75"/>
<line x1="1110.2" y1="941.97" x2="1334.2" y2="941.97" stroke="#EBEBEB" stroke-width="1.75"/>
<line x1="1110.2" y1="862.22" x2="1334.2" y2="862.22" stroke="#EBEBEB" stroke-width="1.75"/>
<line x1="1110.2" y1="1061.6" x2="1334.2" y2="1061.6" stroke="#EBEBEB" stroke-width="3.5"/>
<line x1="1110.2" y1="981.85" x2="1334.2" y2="981.85" stroke="#EBEBEB" stroke-width="3.5"/>
<line x1="1110.2" y1="902.1" x2="1334.2" y2="902.1" stroke="#EBEBEB" stroke-width="3.5"/>
<line x1="1110.2" y1="822.35" x2="1334.2" y2="822.35" stroke="#EBEBEB" stroke-width="3.5"/>
<line x1="1152.2" y1="812" x2="1152.2" y2="1073.7" stroke="#EBEBEB" stroke-width="3.5"/>
<line x1="1222.2" y1="812" x2="1222.2" y2="1073.7" stroke="#EBEBEB" stroke-width="3.5"/>
<line x1="1292.2" y1="812" x2="1292.2" y2="1073.7" stroke="#EBEBEB" stroke-width="3.5"/>
<text transform="translate(1152.2 1058.09) scale(1 1.035)" font-size="34.6" fill="#000" stroke="#000" stroke-width="0.27" text-anchor="middle">0.2</text>
<rect x="1120.7" y="1058.09" width="63" height="3.51" fill="#8DA0CB"/>
<rect x="1120.7" y="1058.25" width="63" height="3.35" fill="#E78AC3"/>
<rect x="1120.7" y="1061.28" width="63" height="0.32" fill="#A6D854"/>
<text transform="translate(1222.2 1056.34) scale(1 1.035)" font-size="34.6" fill="#000" stroke="#000" stroke-width="0.27" text-anchor="middle">0.3</text>
<rect x="1190.7" y="1056.34" width="63" height="5.26" fill="#8DA0CB"/>
<rect x="1190.7" y="1056.97" width="63" height="4.63" fill="#E78AC3"/>
<rect x="1190.7" y="1061.12" width="63" height="0.48" fill="#A6D854"/>
<text transform="translate(1292.2 1054.9) scale(1 1.035)" font-size="34.6" fill="#000" stroke="#000" stroke-width="0.27" text-anchor="middle">0.4</text>
<rect x="1260.7" y="1054.9" width="63" height="6.7" fill="#8DA0CB"/>
<rect x="1260.7" y="1056.02" width="63" height="5.58" fill="#E78AC3"/>
<rect x="1260.7" y="1060.8" width="63" height="0.8" fill="#A6D854"/>
<rect x="1111.12" y="812.92" width="222.15" height="259.85" fill="none" stroke="#333333" stroke-width="1.85"/>
<rect x="1110.2" y="755.5" width="224" height="56.5" fill="#D9D9D9"/>
<rect x="1111.12" y="756.42" width="222.15" height="54.65" fill="none" stroke="#333333" stroke-width="1.85"/>
<line x1="1110.2" y1="812" x2="1334.2" y2="812" stroke="#333333" stroke-width="3.4"/>
<text transform="translate(1222.2 793.81) scale(1 1.045)" font-size="28.1" fill="#1A1A1A" stroke="#1A1A1A" stroke-width="0.22" text-anchor="middle">FLAIR</text>
<rect x="1334.2" y="812" width="57" height="261.7" fill="#D9D9D9"/>
<rect x="1335.12" y="812.92" width="55.15" height="259.85" fill="none" stroke="#333333" stroke-width="1.85"/>
<line x1="1334.2" y1="812" x2="1334.2" y2="1073.7" stroke="#333333" stroke-width="3.4"/>
<text transform="translate(1352.04 942.85) rotate(90)" font-size="28.1" fill="#1A1A1A" stroke="#1A1A1A" stroke-width="0.22" text-anchor="middle">cDNA</text>
<rect x="139" y="1092.4" width="224" height="262.4" fill="#fff"/>
<line x1="139" y1="1302.42" x2="363" y2="1302.42" stroke="#EBEBEB" stroke-width="1.75"/>
<line x1="139" y1="1222.67" x2="363" y2="1222.67" stroke="#EBEBEB" stroke-width="1.75"/>
<line x1="139" y1="1142.92" x2="363" y2="1142.92" stroke="#EBEBEB" stroke-width="1.75"/>
<line x1="139" y1="1342.3" x2="363" y2="1342.3" stroke="#EBEBEB" stroke-width="3.5"/>
<line x1="139" y1="1262.55" x2="363" y2="1262.55" stroke="#EBEBEB" stroke-width="3.5"/>
<line x1="139" y1="1182.8" x2="363" y2="1182.8" stroke="#EBEBEB" stroke-width="3.5"/>
<line x1="139" y1="1103.05" x2="363" y2="1103.05" stroke="#EBEBEB" stroke-width="3.5"/>
<line x1="181" y1="1092.4" x2="181" y2="1354.8" stroke="#EBEBEB" stroke-width="3.5"/>
<line x1="251" y1="1092.4" x2="251" y2="1354.8" stroke="#EBEBEB" stroke-width="3.5"/>
<line x1="321" y1="1092.4" x2="321" y2="1354.8" stroke="#EBEBEB" stroke-width="3.5"/>
<text transform="translate(181 1327.15) scale(1 1.035)" font-size="34.6" fill="#000" stroke="#000" stroke-width="0.27" text-anchor="middle">0.9</text>
<rect x="149.5" y="1327.15" width="63" height="15.15" fill="#66C2A5"/>
<rect x="149.5" y="1330.02" width="63" height="12.28" fill="#FC8D62"/>
<rect x="149.5" y="1337.2" width="63" height="5.1" fill="#8DA0CB"/>
<rect x="149.5" y="1338.71" width="63" height="3.59" fill="#E78AC3"/>
<rect x="149.5" y="1339.8" width="63" height="2.5" fill="#A6D854"/>
<text transform="translate(251 1322.2) scale(1 1.035)" font-size="34.6" fill="#000" stroke="#000" stroke-width="0.27" text-anchor="middle">1.3</text>
<rect x="219.5" y="1322.2" width="63" height="20.1" fill="#66C2A5"/>
<rect x="219.5" y="1326.35" width="63" height="15.95" fill="#FC8D62"/>
<rect x="219.5" y="1332.57" width="63" height="9.73" fill="#8DA0CB"/>
<rect x="219.5" y="1337.36" width="63" height="4.94" fill="#E78AC3"/>
<rect x="219.5" y="1337.44" width="63" height="4.86" fill="#A6D854"/>
<text transform="translate(321 1321.57) scale(1 1.035)" font-size="34.6" fill="#000" stroke="#000" stroke-width="0.27" text-anchor="middle">1.3</text>
<rect x="289.5" y="1321.57" width="63" height="20.73" fill="#66C2A5"/>
<rect x="289.5" y="1325.87" width="63" height="16.43" fill="#FC8D62"/>
<rect x="289.5" y="1331.29" width="63" height="11.01" fill="#8DA0CB"/>
<rect x="289.5" y="1335.76" width="63" height="6.54" fill="#E78AC3"/>
<rect x="289.5" y="1336.56" width="63" height="5.74" fill="#A6D854"/>
<rect x="139.93" y="1093.33" width="222.15" height="260.55" fill="none" stroke="#333333" stroke-width="1.85"/>
<line x1="181" y1="1354.8" x2="181" y2="1364.4" stroke="#333333" stroke-width="3.5"/>
<text transform="translate(181 1392.1) scale(1 1.035)" font-size="28.1" fill="#4D4D4D" stroke="#4D4D4D" stroke-width="0.22" text-anchor="middle">2</text>
<line x1="251" y1="1354.8" x2="251" y2="1364.4" stroke="#333333" stroke-width="3.5"/>
<text transform="translate(251 1392.1) scale(1 1.035)" font-size="28.1" fill="#4D4D4D" stroke="#4D4D4D" stroke-width="0.22" text-anchor="middle">10</text>
<line x1="321" y1="1354.8" x2="321" y2="1364.4" stroke="#333333" stroke-width="3.5"/>
<text transform="translate(321 1392.1) scale(1 1.035)" font-size="28.1" fill="#4D4D4D" stroke="#4D4D4D" stroke-width="0.22" text-anchor="middle">18</text>
<line x1="129.4" y1="1342.3" x2="139" y2="1342.3" stroke="#333333" stroke-width="3.5"/>
<text transform="translate(121.2 1352.36) scale(1 1.035)" font-size="28.1" fill="#4D4D4D" stroke="#4D4D4D" stroke-width="0.22" text-anchor="end">0</text>
<line x1="129.4" y1="1262.55" x2="139" y2="1262.55" stroke="#333333" stroke-width="3.5"/>
<text transform="translate(121.2 1272.61) scale(1 1.035)" font-size="28.1" fill="#4D4D4D" stroke="#4D4D4D" stroke-width="0.22" text-anchor="end">5</text>
<line x1="129.4" y1="1182.8" x2="139" y2="1182.8" stroke="#333333" stroke-width="3.5"/>
<text transform="translate(121.2 1192.86) scale(1 1.035)" font-size="28.1" fill="#4D4D4D" stroke="#4D4D4D" stroke-width="0.22" text-anchor="end">10</text>
<line x1="129.4" y1="1103.05" x2="139" y2="1103.05" stroke="#333333" stroke-width="3.5"/>
<text transform="translate(121.2 1113.11) scale(1 1.035)" font-size="28.1" fill="#4D4D4D" stroke="#4D4D4D" stroke-width="0.22" text-anchor="end">15</text>
<rect x="381.8" y="1092.4" width="224" height="262.4" fill="#fff"/>
<line x1="381.8" y1="1302.42" x2="605.8" y2="1302.42" stroke="#EBEBEB" stroke-width="1.75"/>
<line x1="381.8" y1="1222.67" x2="605.8" y2="1222.67" stroke="#EBEBEB" stroke-width="1.75"/>
<line x1="381.8" y1="1142.92" x2="605.8" y2="1142.92" stroke="#EBEBEB" stroke-width="1.75"/>
<line x1="381.8" y1="1342.3" x2="605.8" y2="1342.3" stroke="#EBEBEB" stroke-width="3.5"/>
<line x1="381.8" y1="1262.55" x2="605.8" y2="1262.55" stroke="#EBEBEB" stroke-width="3.5"/>
<line x1="381.8" y1="1182.8" x2="605.8" y2="1182.8" stroke="#EBEBEB" stroke-width="3.5"/>
<line x1="381.8" y1="1103.05" x2="605.8" y2="1103.05" stroke="#EBEBEB" stroke-width="3.5"/>
<line x1="423.8" y1="1092.4" x2="423.8" y2="1354.8" stroke="#EBEBEB" stroke-width="3.5"/>
<line x1="493.8" y1="1092.4" x2="493.8" y2="1354.8" stroke="#EBEBEB" stroke-width="3.5"/>
<line x1="563.8" y1="1092.4" x2="563.8" y2="1354.8" stroke="#EBEBEB" stroke-width="3.5"/>
<text transform="translate(423.8 1311.2) scale(1 1.035)" font-size="34.6" fill="#000" stroke="#000" stroke-width="0.27" text-anchor="middle">2</text>
<rect x="392.3" y="1311.2" width="63" height="31.1" fill="#66C2A5"/>
<rect x="392.3" y="1313.75" width="63" height="28.55" fill="#FC8D62"/>
<rect x="392.3" y="1334.33" width="63" height="7.97" fill="#8DA0CB"/>
<rect x="392.3" y="1341.66" width="63" height="0.64" fill="#E78AC3"/>
<rect x="392.3" y="1341.98" width="63" height="0.32" fill="#A6D854"/>
<text transform="translate(493.8 1314.87) scale(1 1.035)" font-size="34.6" fill="#000" stroke="#000" stroke-width="0.27" text-anchor="middle">1.7</text>
<rect x="462.3" y="1314.87" width="63" height="27.43" fill="#66C2A5"/>
<rect x="462.3" y="1317.26" width="63" height="25.04" fill="#FC8D62"/>
<rect x="462.3" y="1335.44" width="63" height="6.86" fill="#8DA0CB"/>
<rect x="462.3" y="1341.5" width="63" height="0.8" fill="#E78AC3"/>
<rect x="462.3" y="1341.82" width="63" height="0.48" fill="#A6D854"/>
<text transform="translate(563.8 1315.82) scale(1 1.035)" font-size="34.6" fill="#000" stroke="#000" stroke-width="0.27" text-anchor="middle">1.7</text>
<rect x="532.3" y="1315.82" width="63" height="26.48" fill="#66C2A5"/>
<rect x="532.3" y="1318.38" width="63" height="23.92" fill="#FC8D62"/>
<rect x="532.3" y="1334.64" width="63" height="7.66" fill="#8DA0CB"/>
<rect x="532.3" y="1341.18" width="63" height="1.12" fill="#E78AC3"/>
<rect x="532.3" y="1341.82" width="63" height="0.48" fill="#A6D854"/>
<rect x="382.73" y="1093.33" width="222.15" height="260.55" fill="none" stroke="#333333" stroke-width="1.85"/>
<line x1="423.8" y1="1354.8" x2="423.8" y2="1364.4" stroke="#333333" stroke-width="3.5"/>
<text transform="translate(423.8 1392.1) scale(1 1.035)" font-size="28.1" fill="#4D4D4D" stroke="#4D4D4D" stroke-width="0.22" text-anchor="middle">2</text>
<line x1="493.8" y1="1354.8" x2="493.8" y2="1364.4" stroke="#333333" stroke-width="3.5"/>
<text transform="translate(493.8 1392.1) scale(1 1.035)" font-size="28.1" fill="#4D4D4D" stroke="#4D4D4D" stroke-width="0.22" text-anchor="middle">10</text>
<line x1="563.8" y1="1354.8" x2="563.8" y2="1364.4" stroke="#333333" stroke-width="3.5"/>
<text transform="translate(563.8 1392.1) scale(1 1.035)" font-size="28.1" fill="#4D4D4D" stroke="#4D4D4D" stroke-width="0.22" text-anchor="middle">18</text>
<rect x="624.6" y="1092.4" width="224" height="262.4" fill="#fff"/>
<line x1="624.6" y1="1302.42" x2="848.6" y2="1302.42" stroke="#EBEBEB" stroke-width="1.75"/>
<line x1="624.6" y1="1222.67" x2="848.6" y2="1222.67" stroke="#EBEBEB" stroke-width="1.75"/>
<line x1="624.6" y1="1142.92" x2="848.6" y2="1142.92" stroke="#EBEBEB" stroke-width="1.75"/>
<line x1="624.6" y1="1342.3" x2="848.6" y2="1342.3" stroke="#EBEBEB" stroke-width="3.5"/>
<line x1="624.6" y1="1262.55" x2="848.6" y2="1262.55" stroke="#EBEBEB" stroke-width="3.5"/>
<line x1="624.6" y1="1182.8" x2="848.6" y2="1182.8" stroke="#EBEBEB" stroke-width="3.5"/>
<line x1="624.6" y1="1103.05" x2="848.6" y2="1103.05" stroke="#EBEBEB" stroke-width="3.5"/>
<line x1="666.6" y1="1092.4" x2="666.6" y2="1354.8" stroke="#EBEBEB" stroke-width="3.5"/>
<line x1="736.6" y1="1092.4" x2="736.6" y2="1354.8" stroke="#EBEBEB" stroke-width="3.5"/>
<line x1="806.6" y1="1092.4" x2="806.6" y2="1354.8" stroke="#EBEBEB" stroke-width="3.5"/>
<text transform="translate(666.6 1200.98) scale(1 1.035)" font-size="34.6" fill="#000" stroke="#000" stroke-width="0.27" text-anchor="middle">8.9</text>
<rect x="635.1" y="1200.98" width="63" height="141.32" fill="#66C2A5"/>
<rect x="635.1" y="1235.75" width="63" height="106.55" fill="#FC8D62"/>
<rect x="635.1" y="1298.92" width="63" height="43.38" fill="#8DA0CB"/>
<rect x="635.1" y="1337.51" width="63" height="4.79" fill="#E78AC3"/>
<text transform="translate(736.6 1150.1) scale(1 1.035)" font-size="34.6" fill="#000" stroke="#000" stroke-width="0.27" text-anchor="middle">12.1</text>
<rect x="705.1" y="1150.1" width="63" height="192.2" fill="#66C2A5"/>
<rect x="705.1" y="1197.47" width="63" height="144.83" fill="#FC8D62"/>
<rect x="705.1" y="1279.78" width="63" height="62.52" fill="#8DA0CB"/>
<rect x="705.1" y="1331.45" width="63" height="10.85" fill="#E78AC3"/>
<text transform="translate(806.6 1136.86) scale(1 1.035)" font-size="34.6" fill="#000" stroke="#000" stroke-width="0.27" text-anchor="middle">12.9</text>
<rect x="775.1" y="1136.86" width="63" height="205.44" fill="#66C2A5"/>
<rect x="775.1" y="1186.47" width="63" height="155.83" fill="#FC8D62"/>
<rect x="775.1" y="1272.6" width="63" height="69.7" fill="#8DA0CB"/>
<rect x="775.1" y="1327.94" width="63" height="14.36" fill="#E78AC3"/>
<rect x="625.52" y="1093.33" width="222.15" height="260.55" fill="none" stroke="#333333" stroke-width="1.85"/>
<line x1="666.6" y1="1354.8" x2="666.6" y2="1364.4" stroke="#333333" stroke-width="3.5"/>
<text transform="translate(666.6 1392.1) scale(1 1.035)" font-size="28.1" fill="#4D4D4D" stroke="#4D4D4D" stroke-width="0.22" text-anchor="middle">2</text>
<line x1="736.6" y1="1354.8" x2="736.6" y2="1364.4" stroke="#333333" stroke-width="3.5"/>
<text transform="translate(736.6 1392.1) scale(1 1.035)" font-size="28.1" fill="#4D4D4D" stroke="#4D4D4D" stroke-width="0.22" text-anchor="middle">10</text>
<line x1="806.6" y1="1354.8" x2="806.6" y2="1364.4" stroke="#333333" stroke-width="3.5"/>
<text transform="translate(806.6 1392.1) scale(1 1.035)" font-size="28.1" fill="#4D4D4D" stroke="#4D4D4D" stroke-width="0.22" text-anchor="middle">18</text>
<rect x="867.4" y="1092.4" width="224" height="262.4" fill="#fff"/>
<line x1="867.4" y1="1302.42" x2="1091.4" y2="1302.42" stroke="#EBEBEB" stroke-width="1.75"/>
<line x1="867.4" y1="1222.67" x2="1091.4" y2="1222.67" stroke="#EBEBEB" stroke-width="1.75"/>
<line x1="867.4" y1="1142.92" x2="1091.4" y2="1142.92" stroke="#EBEBEB" stroke-width="1.75"/>
<line x1="867.4" y1="1342.3" x2="1091.4" y2="1342.3" stroke="#EBEBEB" stroke-width="3.5"/>
<line x1="867.4" y1="1262.55" x2="1091.4" y2="1262.55" stroke="#EBEBEB" stroke-width="3.5"/>
<line x1="867.4" y1="1182.8" x2="1091.4" y2="1182.8" stroke="#EBEBEB" stroke-width="3.5"/>
<line x1="867.4" y1="1103.05" x2="1091.4" y2="1103.05" stroke="#EBEBEB" stroke-width="3.5"/>
<line x1="909.4" y1="1092.4" x2="909.4" y2="1354.8" stroke="#EBEBEB" stroke-width="3.5"/>
<line x1="979.4" y1="1092.4" x2="979.4" y2="1354.8" stroke="#EBEBEB" stroke-width="3.5"/>
<line x1="1049.4" y1="1092.4" x2="1049.4" y2="1354.8" stroke="#EBEBEB" stroke-width="3.5"/>
<text transform="translate(909.4 1292.7) scale(1 1.035)" font-size="34.6" fill="#000" stroke="#000" stroke-width="0.27" text-anchor="middle">3.1</text>
<rect x="877.9" y="1292.7" width="63" height="49.6" fill="#66C2A5"/>
<rect x="877.9" y="1294.45" width="63" height="47.85" fill="#FC8D62"/>
<rect x="877.9" y="1296.84" width="63" height="45.46" fill="#8DA0CB"/>
<rect x="877.9" y="1298.28" width="63" height="44.02" fill="#E78AC3"/>
<rect x="877.9" y="1342.14" width="63" height="0.16" fill="#A6D854"/>
<text transform="translate(979.4 1258.56) scale(1 1.035)" font-size="34.6" fill="#000" stroke="#000" stroke-width="0.27" text-anchor="middle">5.3</text>
<rect x="947.9" y="1258.56" width="63" height="83.74" fill="#66C2A5"/>
<rect x="947.9" y="1262.23" width="63" height="80.07" fill="#FC8D62"/>
<rect x="947.9" y="1265.1" width="63" height="77.2" fill="#8DA0CB"/>
<rect x="947.9" y="1268.13" width="63" height="74.17" fill="#E78AC3"/>
<rect x="947.9" y="1342.14" width="63" height="0.16" fill="#A6D854"/>
<text transform="translate(1049.4 1238.62) scale(1 1.035)" font-size="34.6" fill="#000" stroke="#000" stroke-width="0.27" text-anchor="middle">6.5</text>
<rect x="1017.9" y="1238.62" width="63" height="103.67" fill="#66C2A5"/>
<rect x="1017.9" y="1242.29" width="63" height="100.01" fill="#FC8D62"/>
<rect x="1017.9" y="1246.28" width="63" height="96.02" fill="#8DA0CB"/>
<rect x="1017.9" y="1249.15" width="63" height="93.15" fill="#E78AC3"/>
<rect x="1017.9" y="1342.14" width="63" height="0.16" fill="#A6D854"/>
<rect x="868.33" y="1093.33" width="222.15" height="260.55" fill="none" stroke="#333333" stroke-width="1.85"/>
<line x1="909.4" y1="1354.8" x2="909.4" y2="1364.4" stroke="#333333" stroke-width="3.5"/>
<text transform="translate(909.4 1392.1) scale(1 1.035)" font-size="28.1" fill="#4D4D4D" stroke="#4D4D4D" stroke-width="0.22" text-anchor="middle">2</text>
<line x1="979.4" y1="1354.8" x2="979.4" y2="1364.4" stroke="#333333" stroke-width="3.5"/>
<text transform="translate(979.4 1392.1) scale(1 1.035)" font-size="28.1" fill="#4D4D4D" stroke="#4D4D4D" stroke-width="0.22" text-anchor="middle">10</text>
<line x1="1049.4" y1="1354.8" x2="1049.4" y2="1364.4" stroke="#333333" stroke-width="3.5"/>
<text transform="translate(1049.4 1392.1) scale(1 1.035)" font-size="28.1" fill="#4D4D4D" stroke="#4D4D4D" stroke-width="0.22" text-anchor="middle">18</text>
<rect x="1110.2" y="1092.4" width="224" height="262.4" fill="#fff"/>
<line x1="1110.2" y1="1302.42" x2="1334.2" y2="1302.42" stroke="#EBEBEB" stroke-width="1.75"/>
<line x1="1110.2" y1="1222.67" x2="1334.2" y2="1222.67" stroke="#EBEBEB" stroke-width="1.75"/>
<line x1="1110.2" y1="1142.92" x2="1334.2" y2="1142.92" stroke="#EBEBEB" stroke-width="1.75"/>
<line x1="1110.2" y1="1342.3" x2="1334.2" y2="1342.3" stroke="#EBEBEB" stroke-width="3.5"/>
<line x1="1110.2" y1="1262.55" x2="1334.2" y2="1262.55" stroke="#EBEBEB" stroke-width="3.5"/>
<line x1="1110.2" y1="1182.8" x2="1334.2" y2="1182.8" stroke="#EBEBEB" stroke-width="3.5"/>
<line x1="1110.2" y1="1103.05" x2="1334.2" y2="1103.05" stroke="#EBEBEB" stroke-width="3.5"/>
<line x1="1152.2" y1="1092.4" x2="1152.2" y2="1354.8" stroke="#EBEBEB" stroke-width="3.5"/>
<line x1="1222.2" y1="1092.4" x2="1222.2" y2="1354.8" stroke="#EBEBEB" stroke-width="3.5"/>
<line x1="1292.2" y1="1092.4" x2="1292.2" y2="1354.8" stroke="#EBEBEB" stroke-width="3.5"/>
<text transform="translate(1152.2 1339.11) scale(1 1.035)" font-size="34.6" fill="#000" stroke="#000" stroke-width="0.27" text-anchor="middle">0.2</text>
<rect x="1120.7" y="1339.11" width="63" height="3.19" fill="#8DA0CB"/>
<rect x="1120.7" y="1339.59" width="63" height="2.71" fill="#E78AC3"/>
<text transform="translate(1222.2 1334.48) scale(1 1.035)" font-size="34.6" fill="#000" stroke="#000" stroke-width="0.27" text-anchor="middle">0.5</text>
<rect x="1190.7" y="1334.48" width="63" height="7.82" fill="#8DA0CB"/>
<rect x="1190.7" y="1336.72" width="63" height="5.58" fill="#E78AC3"/>
<text transform="translate(1292.2 1332.41) scale(1 1.035)" font-size="34.6" fill="#000" stroke="#000" stroke-width="0.27" text-anchor="middle">0.6</text>
<rect x="1260.7" y="1332.41" width="63" height="9.89" fill="#8DA0CB"/>
<rect x="1260.7" y="1335.6" width="63" height="6.7" fill="#E78AC3"/>
<rect x="1111.12" y="1093.33" width="222.15" height="260.55" fill="none" stroke="#333333" stroke-width="1.85"/>
<line x1="1152.2" y1="1354.8" x2="1152.2" y2="1364.4" stroke="#333333" stroke-width="3.5"/>
<text transform="translate(1152.2 1392.1) scale(1 1.035)" font-size="28.1" fill="#4D4D4D" stroke="#4D4D4D" stroke-width="0.22" text-anchor="middle">2</text>
<line x1="1222.2" y1="1354.8" x2="1222.2" y2="1364.4" stroke="#333333" stroke-width="3.5"/>
<text transform="translate(1222.2 1392.1) scale(1 1.035)" font-size="28.1" fill="#4D4D4D" stroke="#4D4D4D" stroke-width="0.22" text-anchor="middle">10</text>
<line x1="1292.2" y1="1354.8" x2="1292.2" y2="1364.4" stroke="#333333" stroke-width="3.5"/>
<text transform="translate(1292.2 1392.1) scale(1 1.035)" font-size="28.1" fill="#4D4D4D" stroke="#4D4D4D" stroke-width="0.22" text-anchor="middle">18</text>
<rect x="1334.2" y="1092.4" width="57" height="262.4" fill="#D9D9D9"/>
<rect x="1335.12" y="1093.33" width="55.15" height="260.55" fill="none" stroke="#333333" stroke-width="1.85"/>
<line x1="1334.2" y1="1092.4" x2="1334.2" y2="1354.8" stroke="#333333" stroke-width="3.4"/>
<text transform="translate(1352.04 1223.6) rotate(90)" font-size="28.1" fill="#1A1A1A" stroke="#1A1A1A" stroke-width="0.22" text-anchor="middle">dRNA</text>
<text x="736.6" y="1432" font-size="34.6" fill="#000" stroke="#000" stroke-width="0.27" text-anchor="middle">Read Count (million)</text>
<text transform="translate(73.5 1083.4) rotate(-90)" font-size="34.6" fill="#000" stroke="#000" stroke-width="0.27" text-anchor="middle">False Discovery Rate (%)</text>
<text x="0" y="796" font-size="71" fill="#000" font-weight="bold">b</text>
<text x="1448" y="935.5" font-size="35.02" fill="#000" stroke="#000" stroke-width="0.28">category</text>
<rect x="1450.5" y="960" width="55.5" height="55.5" fill="#66C2A5"/>
<text x="1526.5" y="997.81" font-size="27.85" fill="#000" stroke="#000" stroke-width="0.22">intergene misassembly</text>
<rect x="1450.5" y="1020.3" width="55.5" height="55.5" fill="#FC8D62"/>
<text x="1526.5" y="1058.11" font-size="27.85" fill="#000" stroke="#000" stroke-width="0.22">intragene misassembly</text>
<rect x="1450.5" y="1080.6" width="55.5" height="55.5" fill="#8DA0CB"/>
<text x="1526.5" y="1118.41" font-size="27.85" fill="#000" stroke="#000" stroke-width="0.22">large indel</text>
<rect x="1450.5" y="1140.9" width="55.5" height="55.5" fill="#E78AC3"/>
<text x="1526.5" y="1178.71" font-size="27.85" fill="#000" stroke="#000" stroke-width="0.22">reference</text>
<rect x="1450.5" y="1201.2" width="55.5" height="55.5" fill="#A6D854"/>
<text x="1526.5" y="1239.01" font-size="27.85" fill="#000" stroke="#000" stroke-width="0.22">unclassified</text>
</g>
<g>
<rect x="154.6" y="1566.6" width="308.5" height="136" fill="#fff"/>
<line x1="154.6" y1="1680.58" x2="463.1" y2="1680.58" stroke="#EBEBEB" stroke-width="1.75"/>
<line x1="154.6" y1="1649.72" x2="463.1" y2="1649.72" stroke="#EBEBEB" stroke-width="1.75"/>
<line x1="154.6" y1="1618.88" x2="463.1" y2="1618.88" stroke="#EBEBEB" stroke-width="1.75"/>
<line x1="154.6" y1="1588.03" x2="463.1" y2="1588.03" stroke="#EBEBEB" stroke-width="1.75"/>
<line x1="154.6" y1="1696" x2="463.1" y2="1696" stroke="#EBEBEB" stroke-width="3.5"/>
<line x1="154.6" y1="1665.15" x2="463.1" y2="1665.15" stroke="#EBEBEB" stroke-width="3.5"/>
<line x1="154.6" y1="1634.3" x2="463.1" y2="1634.3" stroke="#EBEBEB" stroke-width="3.5"/>
<line x1="154.6" y1="1603.45" x2="463.1" y2="1603.45" stroke="#EBEBEB" stroke-width="3.5"/>
<line x1="154.6" y1="1572.6" x2="463.1" y2="1572.6" stroke="#EBEBEB" stroke-width="3.5"/>
<line x1="212.44" y1="1566.6" x2="212.44" y2="1702.6" stroke="#EBEBEB" stroke-width="3.5"/>
<line x1="308.85" y1="1566.6" x2="308.85" y2="1702.6" stroke="#EBEBEB" stroke-width="3.5"/>
<line x1="405.26" y1="1566.6" x2="405.26" y2="1702.6" stroke="#EBEBEB" stroke-width="3.5"/>
<rect x="169.06" y="1622.21" width="86.77" height="73.79" fill="#BEBEBE"/>
<text transform="translate(212.44 1659.51) scale(1 1.035)" font-size="34.6" fill="#000" stroke="#000" stroke-width="0.27" text-anchor="middle">59.8</text>
<rect x="265.47" y="1610.36" width="86.77" height="85.64" fill="#BEBEBE"/>
<text transform="translate(308.85 1647.66) scale(1 1.035)" font-size="34.6" fill="#000" stroke="#000" stroke-width="0.27" text-anchor="middle">69.4</text>
<rect x="361.87" y="1605.42" width="86.77" height="90.58" fill="#BEBEBE"/>
<text transform="translate(405.26 1642.72) scale(1 1.035)" font-size="34.6" fill="#000" stroke="#000" stroke-width="0.27" text-anchor="middle">73.4</text>
<rect x="155.53" y="1567.52" width="306.65" height="134.15" fill="none" stroke="#333333" stroke-width="1.85"/>
<line x1="145" y1="1696" x2="154.6" y2="1696" stroke="#333333" stroke-width="3.5"/>
<text transform="translate(136.8 1706.06) scale(1 1.035)" font-size="28.1" fill="#4D4D4D" stroke="#4D4D4D" stroke-width="0.22" text-anchor="end">0</text>
<line x1="145" y1="1665.15" x2="154.6" y2="1665.15" stroke="#333333" stroke-width="3.5"/>
<text transform="translate(136.8 1675.21) scale(1 1.035)" font-size="28.1" fill="#4D4D4D" stroke="#4D4D4D" stroke-width="0.22" text-anchor="end">25</text>
<line x1="145" y1="1634.3" x2="154.6" y2="1634.3" stroke="#333333" stroke-width="3.5"/>
<text transform="translate(136.8 1644.36) scale(1 1.035)" font-size="28.1" fill="#4D4D4D" stroke="#4D4D4D" stroke-width="0.22" text-anchor="end">50</text>
<line x1="145" y1="1603.45" x2="154.6" y2="1603.45" stroke="#333333" stroke-width="3.5"/>
<text transform="translate(136.8 1613.51) scale(1 1.035)" font-size="28.1" fill="#4D4D4D" stroke="#4D4D4D" stroke-width="0.22" text-anchor="end">75</text>
<line x1="145" y1="1572.6" x2="154.6" y2="1572.6" stroke="#333333" stroke-width="3.5"/>
<text transform="translate(136.8 1582.66) scale(1 1.035)" font-size="28.1" fill="#4D4D4D" stroke="#4D4D4D" stroke-width="0.22" text-anchor="end">100</text>
<rect x="154.6" y="1509.8" width="308.5" height="56.8" fill="#D9D9D9"/>
<rect x="155.53" y="1510.72" width="306.65" height="54.95" fill="none" stroke="#333333" stroke-width="1.85"/>
<line x1="154.6" y1="1566.6" x2="463.1" y2="1566.6" stroke="#333333" stroke-width="3.4"/>
<text x="308.85" y="1548.26" font-size="28.1" fill="#1A1A1A" stroke="#1A1A1A" stroke-width="0.22" text-anchor="middle">RNA−Bloom2</text>
<rect x="482.16" y="1566.6" width="308.5" height="136" fill="#fff"/>
<line x1="482.16" y1="1680.58" x2="790.66" y2="1680.58" stroke="#EBEBEB" stroke-width="1.75"/>
<line x1="482.16" y1="1649.72" x2="790.66" y2="1649.72" stroke="#EBEBEB" stroke-width="1.75"/>
<line x1="482.16" y1="1618.88" x2="790.66" y2="1618.88" stroke="#EBEBEB" stroke-width="1.75"/>
<line x1="482.16" y1="1588.03" x2="790.66" y2="1588.03" stroke="#EBEBEB" stroke-width="1.75"/>
<line x1="482.16" y1="1696" x2="790.66" y2="1696" stroke="#EBEBEB" stroke-width="3.5"/>
<line x1="482.16" y1="1665.15" x2="790.66" y2="1665.15" stroke="#EBEBEB" stroke-width="3.5"/>
<line x1="482.16" y1="1634.3" x2="790.66" y2="1634.3" stroke="#EBEBEB" stroke-width="3.5"/>
<line x1="482.16" y1="1603.45" x2="790.66" y2="1603.45" stroke="#EBEBEB" stroke-width="3.5"/>
<line x1="482.16" y1="1572.6" x2="790.66" y2="1572.6" stroke="#EBEBEB" stroke-width="3.5"/>
<line x1="540" y1="1566.6" x2="540" y2="1702.6" stroke="#EBEBEB" stroke-width="3.5"/>
<line x1="636.41" y1="1566.6" x2="636.41" y2="1702.6" stroke="#EBEBEB" stroke-width="3.5"/>
<line x1="732.82" y1="1566.6" x2="732.82" y2="1702.6" stroke="#EBEBEB" stroke-width="3.5"/>
<rect x="496.62" y="1634.55" width="86.77" height="61.45" fill="#BEBEBE"/>
<text transform="translate(540 1671.85) scale(1 1.035)" font-size="34.6" fill="#000" stroke="#000" stroke-width="0.27" text-anchor="middle">49.8</text>
<rect x="593.03" y="1622.45" width="86.77" height="73.55" fill="#BEBEBE"/>
<text transform="translate(636.41 1659.75) scale(1 1.035)" font-size="34.6" fill="#000" stroke="#000" stroke-width="0.27" text-anchor="middle">59.6</text>
<rect x="689.43" y="1616.65" width="86.77" height="79.35" fill="#BEBEBE"/>
<text transform="translate(732.82 1653.95) scale(1 1.035)" font-size="34.6" fill="#000" stroke="#000" stroke-width="0.27" text-anchor="middle">64.3</text>
<rect x="483.08" y="1567.52" width="306.65" height="134.15" fill="none" stroke="#333333" stroke-width="1.85"/>
<rect x="482.16" y="1509.8" width="308.5" height="56.8" fill="#D9D9D9"/>
<rect x="483.08" y="1510.72" width="306.65" height="54.95" fill="none" stroke="#333333" stroke-width="1.85"/>
<line x1="482.16" y1="1566.6" x2="790.66" y2="1566.6" stroke="#333333" stroke-width="3.4"/>
<text transform="translate(636.41 1548.26) scale(1 1.045)" font-size="28.1" fill="#1A1A1A" stroke="#1A1A1A" stroke-width="0.22" text-anchor="middle">RATTLE</text>
<rect x="809.72" y="1566.6" width="308.5" height="136" fill="#fff"/>
<line x1="809.72" y1="1680.58" x2="1118.22" y2="1680.58" stroke="#EBEBEB" stroke-width="1.75"/>
<line x1="809.72" y1="1649.72" x2="1118.22" y2="1649.72" stroke="#EBEBEB" stroke-width="1.75"/>
<line x1="809.72" y1="1618.88" x2="1118.22" y2="1618.88" stroke="#EBEBEB" stroke-width="1.75"/>
<line x1="809.72" y1="1588.03" x2="1118.22" y2="1588.03" stroke="#EBEBEB" stroke-width="1.75"/>
<line x1="809.72" y1="1696" x2="1118.22" y2="1696" stroke="#EBEBEB" stroke-width="3.5"/>
<line x1="809.72" y1="1665.15" x2="1118.22" y2="1665.15" stroke="#EBEBEB" stroke-width="3.5"/>
<line x1="809.72" y1="1634.3" x2="1118.22" y2="1634.3" stroke="#EBEBEB" stroke-width="3.5"/>
<line x1="809.72" y1="1603.45" x2="1118.22" y2="1603.45" stroke="#EBEBEB" stroke-width="3.5"/>
<line x1="809.72" y1="1572.6" x2="1118.22" y2="1572.6" stroke="#EBEBEB" stroke-width="3.5"/>
<line x1="867.56" y1="1566.6" x2="867.56" y2="1702.6" stroke="#EBEBEB" stroke-width="3.5"/>
<line x1="963.97" y1="1566.6" x2="963.97" y2="1702.6" stroke="#EBEBEB" stroke-width="3.5"/>
<line x1="1060.38" y1="1566.6" x2="1060.38" y2="1702.6" stroke="#EBEBEB" stroke-width="3.5"/>
<rect x="824.18" y="1638.5" width="86.77" height="57.5" fill="#BEBEBE"/>
<text transform="translate(867.56 1675.8) scale(1 1.035)" font-size="34.6" fill="#000" stroke="#000" stroke-width="0.27" text-anchor="middle">46.6</text>
<rect x="920.59" y="1629.73" width="86.77" height="66.27" fill="#BEBEBE"/>
<text transform="translate(963.97 1667.03) scale(1 1.035)" font-size="34.6" fill="#000" stroke="#000" stroke-width="0.27" text-anchor="middle">53.7</text>
<rect x="1016.99" y="1626.28" width="86.77" height="69.72" fill="#BEBEBE"/>
<text transform="translate(1060.38 1663.58) scale(1 1.035)" font-size="34.6" fill="#000" stroke="#000" stroke-width="0.27" text-anchor="middle">56.5</text>
<rect x="810.64" y="1567.52" width="306.65" height="134.15" fill="none" stroke="#333333" stroke-width="1.85"/>
<rect x="809.72" y="1509.8" width="308.5" height="56.8" fill="#D9D9D9"/>
<rect x="810.64" y="1510.72" width="306.65" height="54.95" fill="none" stroke="#333333" stroke-width="1.85"/>
<line x1="809.72" y1="1566.6" x2="1118.22" y2="1566.6" stroke="#333333" stroke-width="3.4"/>
<text x="963.97" y="1548.26" font-size="28.1" fill="#1A1A1A" stroke="#1A1A1A" stroke-width="0.22" text-anchor="middle">StringTie2</text>
<rect x="1137.28" y="1566.6" width="308.5" height="136" fill="#fff"/>
<line x1="1137.28" y1="1680.58" x2="1445.78" y2="1680.58" stroke="#EBEBEB" stroke-width="1.75"/>
<line x1="1137.28" y1="1649.72" x2="1445.78" y2="1649.72" stroke="#EBEBEB" stroke-width="1.75"/>
<line x1="1137.28" y1="1618.88" x2="1445.78" y2="1618.88" stroke="#EBEBEB" stroke-width="1.75"/>
<line x1="1137.28" y1="1588.03" x2="1445.78" y2="1588.03" stroke="#EBEBEB" stroke-width="1.75"/>
<line x1="1137.28" y1="1696" x2="1445.78" y2="1696" stroke="#EBEBEB" stroke-width="3.5"/>
<line x1="1137.28" y1="1665.15" x2="1445.78" y2="1665.15" stroke="#EBEBEB" stroke-width="3.5"/>
<line x1="1137.28" y1="1634.3" x2="1445.78" y2="1634.3" stroke="#EBEBEB" stroke-width="3.5"/>
<line x1="1137.28" y1="1603.45" x2="1445.78" y2="1603.45" stroke="#EBEBEB" stroke-width="3.5"/>
<line x1="1137.28" y1="1572.6" x2="1445.78" y2="1572.6" stroke="#EBEBEB" stroke-width="3.5"/>
<line x1="1195.12" y1="1566.6" x2="1195.12" y2="1702.6" stroke="#EBEBEB" stroke-width="3.5"/>
<line x1="1291.53" y1="1566.6" x2="1291.53" y2="1702.6" stroke="#EBEBEB" stroke-width="3.5"/>
<line x1="1387.94" y1="1566.6" x2="1387.94" y2="1702.6" stroke="#EBEBEB" stroke-width="3.5"/>
<rect x="1151.74" y="1606.78" width="86.77" height="89.22" fill="#BEBEBE"/>
<text transform="translate(1195.12 1644.08) scale(1 1.035)" font-size="34.6" fill="#000" stroke="#000" stroke-width="0.27" text-anchor="middle">72.3</text>
<rect x="1248.15" y="1596.54" width="86.77" height="99.46" fill="#BEBEBE"/>
<text transform="translate(1291.53 1633.84) scale(1 1.035)" font-size="34.6" fill="#000" stroke="#000" stroke-width="0.27" text-anchor="middle">80.6</text>
<rect x="1344.55" y="1592.84" width="86.77" height="103.16" fill="#BEBEBE"/>
<text transform="translate(1387.94 1630.14) scale(1 1.035)" font-size="34.6" fill="#000" stroke="#000" stroke-width="0.27" text-anchor="middle">83.6</text>
<rect x="1138.2" y="1567.52" width="306.65" height="134.15" fill="none" stroke="#333333" stroke-width="1.85"/>
<rect x="1137.28" y="1509.8" width="308.5" height="56.8" fill="#D9D9D9"/>
<rect x="1138.2" y="1510.72" width="306.65" height="54.95" fill="none" stroke="#333333" stroke-width="1.85"/>
<line x1="1137.28" y1="1566.6" x2="1445.78" y2="1566.6" stroke="#333333" stroke-width="3.4"/>
<text x="1291.53" y="1548.26" font-size="28.1" fill="#1A1A1A" stroke="#1A1A1A" stroke-width="0.22" text-anchor="middle">StringTie2_GTF</text>
<rect x="1464.84" y="1566.6" width="308.5" height="136" fill="#fff"/>
<line x1="1464.84" y1="1680.58" x2="1773.34" y2="1680.58" stroke="#EBEBEB" stroke-width="1.75"/>
<line x1="1464.84" y1="1649.72" x2="1773.34" y2="1649.72" stroke="#EBEBEB" stroke-width="1.75"/>
<line x1="1464.84" y1="1618.88" x2="1773.34" y2="1618.88" stroke="#EBEBEB" stroke-width="1.75"/>
<line x1="1464.84" y1="1588.03" x2="1773.34" y2="1588.03" stroke="#EBEBEB" stroke-width="1.75"/>
<line x1="1464.84" y1="1696" x2="1773.34" y2="1696" stroke="#EBEBEB" stroke-width="3.5"/>
<line x1="1464.84" y1="1665.15" x2="1773.34" y2="1665.15" stroke="#EBEBEB" stroke-width="3.5"/>
<line x1="1464.84" y1="1634.3" x2="1773.34" y2="1634.3" stroke="#EBEBEB" stroke-width="3.5"/>
<line x1="1464.84" y1="1603.45" x2="1773.34" y2="1603.45" stroke="#EBEBEB" stroke-width="3.5"/>
<line x1="1464.84" y1="1572.6" x2="1773.34" y2="1572.6" stroke="#EBEBEB" stroke-width="3.5"/>
<line x1="1522.68" y1="1566.6" x2="1522.68" y2="1702.6" stroke="#EBEBEB" stroke-width="3.5"/>
<line x1="1619.09" y1="1566.6" x2="1619.09" y2="1702.6" stroke="#EBEBEB" stroke-width="3.5"/>
<line x1="1715.5" y1="1566.6" x2="1715.5" y2="1702.6" stroke="#EBEBEB" stroke-width="3.5"/>
<rect x="1479.3" y="1614.56" width="86.77" height="81.44" fill="#BEBEBE"/>
<text transform="translate(1522.68 1651.86) scale(1 1.035)" font-size="34.6" fill="#000" stroke="#000" stroke-width="0.27" text-anchor="middle">66</text>
<rect x="1575.71" y="1601.97" width="86.77" height="94.03" fill="#BEBEBE"/>
<text transform="translate(1619.09 1639.27) scale(1 1.035)" font-size="34.6" fill="#000" stroke="#000" stroke-width="0.27" text-anchor="middle">76.2</text>
<rect x="1672.11" y="1596.79" width="86.77" height="99.21" fill="#BEBEBE"/>
<text transform="translate(1715.5 1634.09) scale(1 1.035)" font-size="34.6" fill="#000" stroke="#000" stroke-width="0.27" text-anchor="middle">80.4</text>
<rect x="1465.76" y="1567.52" width="306.65" height="134.15" fill="none" stroke="#333333" stroke-width="1.85"/>
<rect x="1464.84" y="1509.8" width="308.5" height="56.8" fill="#D9D9D9"/>
<rect x="1465.76" y="1510.72" width="306.65" height="54.95" fill="none" stroke="#333333" stroke-width="1.85"/>
<line x1="1464.84" y1="1566.6" x2="1773.34" y2="1566.6" stroke="#333333" stroke-width="3.4"/>
<text transform="translate(1619.09 1548.26) scale(1 1.045)" font-size="28.1" fill="#1A1A1A" stroke="#1A1A1A" stroke-width="0.22" text-anchor="middle">FLAIR</text>
<rect x="1773.34" y="1566.6" width="57" height="136" fill="#D9D9D9"/>
<rect x="1774.26" y="1567.52" width="55.15" height="134.15" fill="none" stroke="#333333" stroke-width="1.85"/>
<line x1="1773.34" y1="1566.6" x2="1773.34" y2="1702.6" stroke="#333333" stroke-width="3.4"/>
<text transform="translate(1791.18 1634.6) rotate(90)" font-size="28.1" fill="#1A1A1A" stroke="#1A1A1A" stroke-width="0.22" text-anchor="middle">cDNA</text>
<rect x="154.6" y="1721.5" width="308.5" height="136.1" fill="#fff"/>
<line x1="154.6" y1="1835.74" x2="463.1" y2="1835.74" stroke="#EBEBEB" stroke-width="1.75"/>
<line x1="154.6" y1="1804.81" x2="463.1" y2="1804.81" stroke="#EBEBEB" stroke-width="1.75"/>
<line x1="154.6" y1="1773.89" x2="463.1" y2="1773.89" stroke="#EBEBEB" stroke-width="1.75"/>
<line x1="154.6" y1="1742.96" x2="463.1" y2="1742.96" stroke="#EBEBEB" stroke-width="1.75"/>
<line x1="154.6" y1="1851.2" x2="463.1" y2="1851.2" stroke="#EBEBEB" stroke-width="3.5"/>
<line x1="154.6" y1="1820.28" x2="463.1" y2="1820.28" stroke="#EBEBEB" stroke-width="3.5"/>
<line x1="154.6" y1="1789.35" x2="463.1" y2="1789.35" stroke="#EBEBEB" stroke-width="3.5"/>
<line x1="154.6" y1="1758.42" x2="463.1" y2="1758.42" stroke="#EBEBEB" stroke-width="3.5"/>
<line x1="154.6" y1="1727.5" x2="463.1" y2="1727.5" stroke="#EBEBEB" stroke-width="3.5"/>
<line x1="212.44" y1="1721.5" x2="212.44" y2="1857.6" stroke="#EBEBEB" stroke-width="3.5"/>
<line x1="308.85" y1="1721.5" x2="308.85" y2="1857.6" stroke="#EBEBEB" stroke-width="3.5"/>
<line x1="405.26" y1="1721.5" x2="405.26" y2="1857.6" stroke="#EBEBEB" stroke-width="3.5"/>
<rect x="169.06" y="1768.2" width="86.77" height="83" fill="#BEBEBE"/>
<text transform="translate(212.44 1805.5) scale(1 1.035)" font-size="34.6" fill="#000" stroke="#000" stroke-width="0.27" text-anchor="middle">67.1</text>
<rect x="265.47" y="1751.13" width="86.77" height="100.07" fill="#BEBEBE"/>
<text transform="translate(308.85 1788.43) scale(1 1.035)" font-size="34.6" fill="#000" stroke="#000" stroke-width="0.27" text-anchor="middle">80.9</text>
<rect x="361.87" y="1745.93" width="86.77" height="105.27" fill="#BEBEBE"/>
<text transform="translate(405.26 1783.23) scale(1 1.035)" font-size="34.6" fill="#000" stroke="#000" stroke-width="0.27" text-anchor="middle">85.1</text>
<rect x="155.53" y="1722.42" width="306.65" height="134.25" fill="none" stroke="#333333" stroke-width="1.85"/>
<line x1="212.44" y1="1857.6" x2="212.44" y2="1867.2" stroke="#333333" stroke-width="3.5"/>
<text transform="translate(212.44 1894.4) scale(1 1.035)" font-size="28.1" fill="#4D4D4D" stroke="#4D4D4D" stroke-width="0.22" text-anchor="middle">2</text>
<line x1="308.85" y1="1857.6" x2="308.85" y2="1867.2" stroke="#333333" stroke-width="3.5"/>
<text transform="translate(308.85 1894.4) scale(1 1.035)" font-size="28.1" fill="#4D4D4D" stroke="#4D4D4D" stroke-width="0.22" text-anchor="middle">10</text>
<line x1="405.26" y1="1857.6" x2="405.26" y2="1867.2" stroke="#333333" stroke-width="3.5"/>
<text transform="translate(405.26 1894.4) scale(1 1.035)" font-size="28.1" fill="#4D4D4D" stroke="#4D4D4D" stroke-width="0.22" text-anchor="middle">18</text>
<line x1="145" y1="1851.2" x2="154.6" y2="1851.2" stroke="#333333" stroke-width="3.5"/>
<text transform="translate(136.8 1861.26) scale(1 1.035)" font-size="28.1" fill="#4D4D4D" stroke="#4D4D4D" stroke-width="0.22" text-anchor="end">0</text>
<line x1="145" y1="1820.28" x2="154.6" y2="1820.28" stroke="#333333" stroke-width="3.5"/>
<text transform="translate(136.8 1830.33) scale(1 1.035)" font-size="28.1" fill="#4D4D4D" stroke="#4D4D4D" stroke-width="0.22" text-anchor="end">25</text>
<line x1="145" y1="1789.35" x2="154.6" y2="1789.35" stroke="#333333" stroke-width="3.5"/>
<text transform="translate(136.8 1799.41) scale(1 1.035)" font-size="28.1" fill="#4D4D4D" stroke="#4D4D4D" stroke-width="0.22" text-anchor="end">50</text>
<line x1="145" y1="1758.42" x2="154.6" y2="1758.42" stroke="#333333" stroke-width="3.5"/>
<text transform="translate(136.8 1768.48) scale(1 1.035)" font-size="28.1" fill="#4D4D4D" stroke="#4D4D4D" stroke-width="0.22" text-anchor="end">75</text>
<line x1="145" y1="1727.5" x2="154.6" y2="1727.5" stroke="#333333" stroke-width="3.5"/>
<text transform="translate(136.8 1737.56) scale(1 1.035)" font-size="28.1" fill="#4D4D4D" stroke="#4D4D4D" stroke-width="0.22" text-anchor="end">100</text>
<rect x="482.16" y="1721.5" width="308.5" height="136.1" fill="#fff"/>
<line x1="482.16" y1="1835.74" x2="790.66" y2="1835.74" stroke="#EBEBEB" stroke-width="1.75"/>
<line x1="482.16" y1="1804.81" x2="790.66" y2="1804.81" stroke="#EBEBEB" stroke-width="1.75"/>
<line x1="482.16" y1="1773.89" x2="790.66" y2="1773.89" stroke="#EBEBEB" stroke-width="1.75"/>
<line x1="482.16" y1="1742.96" x2="790.66" y2="1742.96" stroke="#EBEBEB" stroke-width="1.75"/>
<line x1="482.16" y1="1851.2" x2="790.66" y2="1851.2" stroke="#EBEBEB" stroke-width="3.5"/>
<line x1="482.16" y1="1820.28" x2="790.66" y2="1820.28" stroke="#EBEBEB" stroke-width="3.5"/>
<line x1="482.16" y1="1789.35" x2="790.66" y2="1789.35" stroke="#EBEBEB" stroke-width="3.5"/>
<line x1="482.16" y1="1758.42" x2="790.66" y2="1758.42" stroke="#EBEBEB" stroke-width="3.5"/>
<line x1="482.16" y1="1727.5" x2="790.66" y2="1727.5" stroke="#EBEBEB" stroke-width="3.5"/>
<line x1="540" y1="1721.5" x2="540" y2="1857.6" stroke="#EBEBEB" stroke-width="3.5"/>
<line x1="636.41" y1="1721.5" x2="636.41" y2="1857.6" stroke="#EBEBEB" stroke-width="3.5"/>
<line x1="732.82" y1="1721.5" x2="732.82" y2="1857.6" stroke="#EBEBEB" stroke-width="3.5"/>
<rect x="496.62" y="1781.31" width="86.77" height="69.89" fill="#BEBEBE"/>
<text transform="translate(540 1818.61) scale(1 1.035)" font-size="34.6" fill="#000" stroke="#000" stroke-width="0.27" text-anchor="middle">56.5</text>
<rect x="593.03" y="1762.63" width="86.77" height="88.57" fill="#BEBEBE"/>
<text transform="translate(636.41 1799.93) scale(1 1.035)" font-size="34.6" fill="#000" stroke="#000" stroke-width="0.27" text-anchor="middle">71.6</text>
<rect x="689.43" y="1755.09" width="86.77" height="96.11" fill="#BEBEBE"/>
<text transform="translate(732.82 1792.39) scale(1 1.035)" font-size="34.6" fill="#000" stroke="#000" stroke-width="0.27" text-anchor="middle">77.7</text>
<rect x="483.08" y="1722.42" width="306.65" height="134.25" fill="none" stroke="#333333" stroke-width="1.85"/>
<line x1="540" y1="1857.6" x2="540" y2="1867.2" stroke="#333333" stroke-width="3.5"/>
<text transform="translate(540 1894.4) scale(1 1.035)" font-size="28.1" fill="#4D4D4D" stroke="#4D4D4D" stroke-width="0.22" text-anchor="middle">2</text>
<line x1="636.41" y1="1857.6" x2="636.41" y2="1867.2" stroke="#333333" stroke-width="3.5"/>
<text transform="translate(636.41 1894.4) scale(1 1.035)" font-size="28.1" fill="#4D4D4D" stroke="#4D4D4D" stroke-width="0.22" text-anchor="middle">10</text>
<line x1="732.82" y1="1857.6" x2="732.82" y2="1867.2" stroke="#333333" stroke-width="3.5"/>
<text transform="translate(732.82 1894.4) scale(1 1.035)" font-size="28.1" fill="#4D4D4D" stroke="#4D4D4D" stroke-width="0.22" text-anchor="middle">18</text>
<rect x="809.72" y="1721.5" width="308.5" height="136.1" fill="#fff"/>
<line x1="809.72" y1="1835.74" x2="1118.22" y2="1835.74" stroke="#EBEBEB" stroke-width="1.75"/>
<line x1="809.72" y1="1804.81" x2="1118.22" y2="1804.81" stroke="#EBEBEB" stroke-width="1.75"/>
<line x1="809.72" y1="1773.89" x2="1118.22" y2="1773.89" stroke="#EBEBEB" stroke-width="1.75"/>
<line x1="809.72" y1="1742.96" x2="1118.22" y2="1742.96" stroke="#EBEBEB" stroke-width="1.75"/>
<line x1="809.72" y1="1851.2" x2="1118.22" y2="1851.2" stroke="#EBEBEB" stroke-width="3.5"/>
<line x1="809.72" y1="1820.28" x2="1118.22" y2="1820.28" stroke="#EBEBEB" stroke-width="3.5"/>
<line x1="809.72" y1="1789.35" x2="1118.22" y2="1789.35" stroke="#EBEBEB" stroke-width="3.5"/>
<line x1="809.72" y1="1758.42" x2="1118.22" y2="1758.42" stroke="#EBEBEB" stroke-width="3.5"/>
<line x1="809.72" y1="1727.5" x2="1118.22" y2="1727.5" stroke="#EBEBEB" stroke-width="3.5"/>
<line x1="867.56" y1="1721.5" x2="867.56" y2="1857.6" stroke="#EBEBEB" stroke-width="3.5"/>
<line x1="963.97" y1="1721.5" x2="963.97" y2="1857.6" stroke="#EBEBEB" stroke-width="3.5"/>
<line x1="1060.38" y1="1721.5" x2="1060.38" y2="1857.6" stroke="#EBEBEB" stroke-width="3.5"/>
<rect x="824.18" y="1778.96" width="86.77" height="72.24" fill="#BEBEBE"/>
<text transform="translate(867.56 1816.26) scale(1 1.035)" font-size="34.6" fill="#000" stroke="#000" stroke-width="0.27" text-anchor="middle">58.4</text>
<rect x="920.59" y="1769.19" width="86.77" height="82.01" fill="#BEBEBE"/>
<text transform="translate(963.97 1806.49) scale(1 1.035)" font-size="34.6" fill="#000" stroke="#000" stroke-width="0.27" text-anchor="middle">66.3</text>
<rect x="1016.99" y="1766.09" width="86.77" height="85.11" fill="#BEBEBE"/>
<text transform="translate(1060.38 1803.39) scale(1 1.035)" font-size="34.6" fill="#000" stroke="#000" stroke-width="0.27" text-anchor="middle">68.8</text>
<rect x="810.64" y="1722.42" width="306.65" height="134.25" fill="none" stroke="#333333" stroke-width="1.85"/>
<line x1="867.56" y1="1857.6" x2="867.56" y2="1867.2" stroke="#333333" stroke-width="3.5"/>
<text transform="translate(867.56 1894.4) scale(1 1.035)" font-size="28.1" fill="#4D4D4D" stroke="#4D4D4D" stroke-width="0.22" text-anchor="middle">2</text>
<line x1="963.97" y1="1857.6" x2="963.97" y2="1867.2" stroke="#333333" stroke-width="3.5"/>
<text transform="translate(963.97 1894.4) scale(1 1.035)" font-size="28.1" fill="#4D4D4D" stroke="#4D4D4D" stroke-width="0.22" text-anchor="middle">10</text>
<line x1="1060.38" y1="1857.6" x2="1060.38" y2="1867.2" stroke="#333333" stroke-width="3.5"/>
<text transform="translate(1060.38 1894.4) scale(1 1.035)" font-size="28.1" fill="#4D4D4D" stroke="#4D4D4D" stroke-width="0.22" text-anchor="middle">18</text>
<rect x="1137.28" y="1721.5" width="308.5" height="136.1" fill="#fff"/>
<line x1="1137.28" y1="1835.74" x2="1445.78" y2="1835.74" stroke="#EBEBEB" stroke-width="1.75"/>
<line x1="1137.28" y1="1804.81" x2="1445.78" y2="1804.81" stroke="#EBEBEB" stroke-width="1.75"/>
<line x1="1137.28" y1="1773.89" x2="1445.78" y2="1773.89" stroke="#EBEBEB" stroke-width="1.75"/>
<line x1="1137.28" y1="1742.96" x2="1445.78" y2="1742.96" stroke="#EBEBEB" stroke-width="1.75"/>
<line x1="1137.28" y1="1851.2" x2="1445.78" y2="1851.2" stroke="#EBEBEB" stroke-width="3.5"/>
<line x1="1137.28" y1="1820.28" x2="1445.78" y2="1820.28" stroke="#EBEBEB" stroke-width="3.5"/>
<line x1="1137.28" y1="1789.35" x2="1445.78" y2="1789.35" stroke="#EBEBEB" stroke-width="3.5"/>
<line x1="1137.28" y1="1758.42" x2="1445.78" y2="1758.42" stroke="#EBEBEB" stroke-width="3.5"/>
<line x1="1137.28" y1="1727.5" x2="1445.78" y2="1727.5" stroke="#EBEBEB" stroke-width="3.5"/>
<line x1="1195.12" y1="1721.5" x2="1195.12" y2="1857.6" stroke="#EBEBEB" stroke-width="3.5"/>
<line x1="1291.53" y1="1721.5" x2="1291.53" y2="1857.6" stroke="#EBEBEB" stroke-width="3.5"/>
<line x1="1387.94" y1="1721.5" x2="1387.94" y2="1857.6" stroke="#EBEBEB" stroke-width="3.5"/>
<rect x="1151.74" y="1750.63" width="86.77" height="100.57" fill="#BEBEBE"/>
<text transform="translate(1195.12 1787.93) scale(1 1.035)" font-size="34.6" fill="#000" stroke="#000" stroke-width="0.27" text-anchor="middle">81.3</text>
<rect x="1248.15" y="1742.96" width="86.77" height="108.24" fill="#BEBEBE"/>
<text transform="translate(1291.53 1780.26) scale(1 1.035)" font-size="34.6" fill="#000" stroke="#000" stroke-width="0.27" text-anchor="middle">87.5</text>
<rect x="1344.55" y="1741.85" width="86.77" height="109.35" fill="#BEBEBE"/>
<text transform="translate(1387.94 1779.15) scale(1 1.035)" font-size="34.6" fill="#000" stroke="#000" stroke-width="0.27" text-anchor="middle">88.4</text>
<rect x="1138.2" y="1722.42" width="306.65" height="134.25" fill="none" stroke="#333333" stroke-width="1.85"/>
<line x1="1195.12" y1="1857.6" x2="1195.12" y2="1867.2" stroke="#333333" stroke-width="3.5"/>
<text transform="translate(1195.12 1894.4) scale(1 1.035)" font-size="28.1" fill="#4D4D4D" stroke="#4D4D4D" stroke-width="0.22" text-anchor="middle">2</text>
<line x1="1291.53" y1="1857.6" x2="1291.53" y2="1867.2" stroke="#333333" stroke-width="3.5"/>
<text transform="translate(1291.53 1894.4) scale(1 1.035)" font-size="28.1" fill="#4D4D4D" stroke="#4D4D4D" stroke-width="0.22" text-anchor="middle">10</text>
<line x1="1387.94" y1="1857.6" x2="1387.94" y2="1867.2" stroke="#333333" stroke-width="3.5"/>
<text transform="translate(1387.94 1894.4) scale(1 1.035)" font-size="28.1" fill="#4D4D4D" stroke="#4D4D4D" stroke-width="0.22" text-anchor="middle">18</text>
<rect x="1464.84" y="1721.5" width="308.5" height="136.1" fill="#fff"/>
<line x1="1464.84" y1="1835.74" x2="1773.34" y2="1835.74" stroke="#EBEBEB" stroke-width="1.75"/>
<line x1="1464.84" y1="1804.81" x2="1773.34" y2="1804.81" stroke="#EBEBEB" stroke-width="1.75"/>
<line x1="1464.84" y1="1773.89" x2="1773.34" y2="1773.89" stroke="#EBEBEB" stroke-width="1.75"/>
<line x1="1464.84" y1="1742.96" x2="1773.34" y2="1742.96" stroke="#EBEBEB" stroke-width="1.75"/>
<line x1="1464.84" y1="1851.2" x2="1773.34" y2="1851.2" stroke="#EBEBEB" stroke-width="3.5"/>
<line x1="1464.84" y1="1820.28" x2="1773.34" y2="1820.28" stroke="#EBEBEB" stroke-width="3.5"/>
<line x1="1464.84" y1="1789.35" x2="1773.34" y2="1789.35" stroke="#EBEBEB" stroke-width="3.5"/>
<line x1="1464.84" y1="1758.42" x2="1773.34" y2="1758.42" stroke="#EBEBEB" stroke-width="3.5"/>
<line x1="1464.84" y1="1727.5" x2="1773.34" y2="1727.5" stroke="#EBEBEB" stroke-width="3.5"/>
<line x1="1522.68" y1="1721.5" x2="1522.68" y2="1857.6" stroke="#EBEBEB" stroke-width="3.5"/>
<line x1="1619.09" y1="1721.5" x2="1619.09" y2="1857.6" stroke="#EBEBEB" stroke-width="3.5"/>
<line x1="1715.5" y1="1721.5" x2="1715.5" y2="1857.6" stroke="#EBEBEB" stroke-width="3.5"/>
<rect x="1479.3" y="1758.05" width="86.77" height="93.15" fill="#BEBEBE"/>
<text transform="translate(1522.68 1795.35) scale(1 1.035)" font-size="34.6" fill="#000" stroke="#000" stroke-width="0.27" text-anchor="middle">75.3</text>
<rect x="1575.71" y="1742.59" width="86.77" height="108.61" fill="#BEBEBE"/>
<text transform="translate(1619.09 1779.89) scale(1 1.035)" font-size="34.6" fill="#000" stroke="#000" stroke-width="0.27" text-anchor="middle">87.8</text>
<rect x="1672.11" y="1739.25" width="86.77" height="111.95" fill="#BEBEBE"/>
<text transform="translate(1715.5 1776.55) scale(1 1.035)" font-size="34.6" fill="#000" stroke="#000" stroke-width="0.27" text-anchor="middle">90.5</text>
<rect x="1465.76" y="1722.42" width="306.65" height="134.25" fill="none" stroke="#333333" stroke-width="1.85"/>
<line x1="1522.68" y1="1857.6" x2="1522.68" y2="1867.2" stroke="#333333" stroke-width="3.5"/>
<text transform="translate(1522.68 1894.4) scale(1 1.035)" font-size="28.1" fill="#4D4D4D" stroke="#4D4D4D" stroke-width="0.22" text-anchor="middle">2</text>
<line x1="1619.09" y1="1857.6" x2="1619.09" y2="1867.2" stroke="#333333" stroke-width="3.5"/>
<text transform="translate(1619.09 1894.4) scale(1 1.035)" font-size="28.1" fill="#4D4D4D" stroke="#4D4D4D" stroke-width="0.22" text-anchor="middle">10</text>
<line x1="1715.5" y1="1857.6" x2="1715.5" y2="1867.2" stroke="#333333" stroke-width="3.5"/>
<text transform="translate(1715.5 1894.4) scale(1 1.035)" font-size="28.1" fill="#4D4D4D" stroke="#4D4D4D" stroke-width="0.22" text-anchor="middle">18</text>
<rect x="1773.34" y="1721.5" width="57" height="136.1" fill="#D9D9D9"/>
<rect x="1774.26" y="1722.42" width="55.15" height="134.25" fill="none" stroke="#333333" stroke-width="1.85"/>
<line x1="1773.34" y1="1721.5" x2="1773.34" y2="1857.6" stroke="#333333" stroke-width="3.4"/>
<text transform="translate(1791.18 1789.55) rotate(90)" font-size="28.1" fill="#1A1A1A" stroke="#1A1A1A" stroke-width="0.22" text-anchor="middle">dRNA</text>
<text x="963.97" y="1935" font-size="34.6" fill="#000" stroke="#000" stroke-width="0.27" text-anchor="middle">Read Count (million)</text>
<text transform="translate(73.5 1712.1) rotate(-90)" font-size="34.6" fill="#000" stroke="#000" stroke-width="0.27" text-anchor="middle">F1 (%)</text>
<text x="-2" y="1550.5" font-size="71" fill="#000" font-weight="bold">c</text>
</g>
<g>
<rect x="128.8" y="2073.2" width="256.6" height="130.9" fill="#fff"/>
<line x1="128.8" y1="2178.15" x2="385.4" y2="2178.15" stroke="#EBEBEB" stroke-width="1.85"/>
<line x1="128.8" y1="2138.45" x2="385.4" y2="2138.45" stroke="#EBEBEB" stroke-width="1.85"/>
<line x1="128.8" y1="2098.75" x2="385.4" y2="2098.75" stroke="#EBEBEB" stroke-width="1.85"/>
<line x1="128.8" y1="2198" x2="385.4" y2="2198" stroke="#EBEBEB" stroke-width="3.7"/>
<line x1="128.8" y1="2158.3" x2="385.4" y2="2158.3" stroke="#EBEBEB" stroke-width="3.7"/>
<line x1="128.8" y1="2118.6" x2="385.4" y2="2118.6" stroke="#EBEBEB" stroke-width="3.7"/>
<line x1="128.8" y1="2078.9" x2="385.4" y2="2078.9" stroke="#EBEBEB" stroke-width="3.7"/>
<line x1="176.91" y1="2073.2" x2="176.91" y2="2204.1" stroke="#EBEBEB" stroke-width="3.7"/>
<line x1="257.1" y1="2073.2" x2="257.1" y2="2204.1" stroke="#EBEBEB" stroke-width="3.7"/>
<line x1="337.29" y1="2073.2" x2="337.29" y2="2204.1" stroke="#EBEBEB" stroke-width="3.7"/>
<rect x="140.83" y="2151.15" width="72.17" height="46.85" fill="#F8766D"/>
<rect x="140.83" y="2171.8" width="72.17" height="26.2" fill="#00BFC4"/>
<text transform="translate(176.91 2145.15) scale(1 1.035)" font-size="34.6" fill="#000" stroke="#000" stroke-width="0.27" text-anchor="middle">1.2</text>
<rect x="221.02" y="2151.15" width="72.17" height="46.85" fill="#F8766D"/>
<rect x="221.02" y="2174.58" width="72.17" height="23.42" fill="#00BFC4"/>
<text transform="translate(257.1 2145.15) scale(1 1.035)" font-size="34.6" fill="#000" stroke="#000" stroke-width="0.27" text-anchor="middle">1.2</text>
<rect x="301.2" y="2151.15" width="72.17" height="46.85" fill="#F8766D"/>
<rect x="301.2" y="2175.37" width="72.17" height="22.63" fill="#00BFC4"/>
<text transform="translate(337.29 2145.15) scale(1 1.035)" font-size="34.6" fill="#000" stroke="#000" stroke-width="0.27" text-anchor="middle">1.2</text>
<rect x="129.73" y="2074.12" width="254.75" height="129.05" fill="none" stroke="#333333" stroke-width="1.85"/>
<line x1="119.3" y1="2198" x2="128.8" y2="2198" stroke="#333333" stroke-width="3.7"/>
<text transform="translate(111.1 2209.28) scale(1 1.035)" font-size="31.5" fill="#4D4D4D" stroke="#4D4D4D" stroke-width="0.25" text-anchor="end">0</text>
<line x1="119.3" y1="2158.3" x2="128.8" y2="2158.3" stroke="#333333" stroke-width="3.7"/>
<text transform="translate(111.1 2169.58) scale(1 1.035)" font-size="31.5" fill="#4D4D4D" stroke="#4D4D4D" stroke-width="0.25" text-anchor="end">1</text>
<line x1="119.3" y1="2118.6" x2="128.8" y2="2118.6" stroke="#333333" stroke-width="3.7"/>
<text transform="translate(111.1 2129.88) scale(1 1.035)" font-size="31.5" fill="#4D4D4D" stroke="#4D4D4D" stroke-width="0.25" text-anchor="end">2</text>
<line x1="119.3" y1="2078.9" x2="128.8" y2="2078.9" stroke="#333333" stroke-width="3.7"/>
<text transform="translate(111.1 2090.18) scale(1 1.035)" font-size="31.5" fill="#4D4D4D" stroke="#4D4D4D" stroke-width="0.25" text-anchor="end">3</text>
<rect x="128.8" y="2012.8" width="256.6" height="60.4" fill="#D9D9D9"/>
<rect x="129.73" y="2013.72" width="254.75" height="58.55" fill="none" stroke="#333333" stroke-width="1.85"/>
<line x1="128.8" y1="2073.2" x2="385.4" y2="2073.2" stroke="#333333" stroke-width="3.4"/>
<text x="257.1" y="2054.35" font-size="31.7" fill="#1A1A1A" stroke="#1A1A1A" stroke-width="0.25" text-anchor="middle">RNA−Bloom2</text>
<rect x="404.1" y="2073.2" width="256.6" height="130.9" fill="#fff"/>
<line x1="404.1" y1="2178.15" x2="660.7" y2="2178.15" stroke="#EBEBEB" stroke-width="1.85"/>
<line x1="404.1" y1="2138.45" x2="660.7" y2="2138.45" stroke="#EBEBEB" stroke-width="1.85"/>
<line x1="404.1" y1="2098.75" x2="660.7" y2="2098.75" stroke="#EBEBEB" stroke-width="1.85"/>
<line x1="404.1" y1="2198" x2="660.7" y2="2198" stroke="#EBEBEB" stroke-width="3.7"/>
<line x1="404.1" y1="2158.3" x2="660.7" y2="2158.3" stroke="#EBEBEB" stroke-width="3.7"/>
<line x1="404.1" y1="2118.6" x2="660.7" y2="2118.6" stroke="#EBEBEB" stroke-width="3.7"/>
<line x1="404.1" y1="2078.9" x2="660.7" y2="2078.9" stroke="#EBEBEB" stroke-width="3.7"/>
<line x1="452.21" y1="2073.2" x2="452.21" y2="2204.1" stroke="#EBEBEB" stroke-width="3.7"/>
<line x1="532.4" y1="2073.2" x2="532.4" y2="2204.1" stroke="#EBEBEB" stroke-width="3.7"/>
<line x1="612.59" y1="2073.2" x2="612.59" y2="2204.1" stroke="#EBEBEB" stroke-width="3.7"/>
<rect x="416.13" y="2141.63" width="72.17" height="56.37" fill="#F8766D"/>
<rect x="416.13" y="2165.05" width="72.17" height="32.95" fill="#00BFC4"/>
<text transform="translate(452.21 2135.63) scale(1 1.035)" font-size="34.6" fill="#000" stroke="#000" stroke-width="0.27" text-anchor="middle">1.4</text>
<rect x="496.32" y="2130.11" width="72.17" height="67.89" fill="#F8766D"/>
<rect x="496.32" y="2153.54" width="72.17" height="44.46" fill="#00BFC4"/>
<text transform="translate(532.4 2124.11) scale(1 1.035)" font-size="34.6" fill="#000" stroke="#000" stroke-width="0.27" text-anchor="middle">1.7</text>
<rect x="576.5" y="2123.56" width="72.17" height="74.44" fill="#F8766D"/>
<rect x="576.5" y="2147.18" width="72.17" height="50.82" fill="#00BFC4"/>
<text transform="translate(612.59 2117.56) scale(1 1.035)" font-size="34.6" fill="#000" stroke="#000" stroke-width="0.27" text-anchor="middle">1.9</text>
<rect x="405.03" y="2074.12" width="254.75" height="129.05" fill="none" stroke="#333333" stroke-width="1.85"/>
<rect x="404.1" y="2012.8" width="256.6" height="60.4" fill="#D9D9D9"/>
<rect x="405.03" y="2013.72" width="254.75" height="58.55" fill="none" stroke="#333333" stroke-width="1.85"/>
<line x1="404.1" y1="2073.2" x2="660.7" y2="2073.2" stroke="#333333" stroke-width="3.4"/>
<text transform="translate(532.4 2054.35) scale(1 1.045)" font-size="31.7" fill="#1A1A1A" stroke="#1A1A1A" stroke-width="0.25" text-anchor="middle">RATTLE</text>
<rect x="679.4" y="2073.2" width="256.6" height="130.9" fill="#fff"/>
<line x1="679.4" y1="2178.15" x2="936" y2="2178.15" stroke="#EBEBEB" stroke-width="1.85"/>
<line x1="679.4" y1="2138.45" x2="936" y2="2138.45" stroke="#EBEBEB" stroke-width="1.85"/>
<line x1="679.4" y1="2098.75" x2="936" y2="2098.75" stroke="#EBEBEB" stroke-width="1.85"/>
<line x1="679.4" y1="2198" x2="936" y2="2198" stroke="#EBEBEB" stroke-width="3.7"/>
<line x1="679.4" y1="2158.3" x2="936" y2="2158.3" stroke="#EBEBEB" stroke-width="3.7"/>
<line x1="679.4" y1="2118.6" x2="936" y2="2118.6" stroke="#EBEBEB" stroke-width="3.7"/>
<line x1="679.4" y1="2078.9" x2="936" y2="2078.9" stroke="#EBEBEB" stroke-width="3.7"/>
<line x1="727.51" y1="2073.2" x2="727.51" y2="2204.1" stroke="#EBEBEB" stroke-width="3.7"/>
<line x1="807.7" y1="2073.2" x2="807.7" y2="2204.1" stroke="#EBEBEB" stroke-width="3.7"/>
<line x1="887.89" y1="2073.2" x2="887.89" y2="2204.1" stroke="#EBEBEB" stroke-width="3.7"/>
<rect x="691.43" y="2154.33" width="72.17" height="43.67" fill="#F8766D"/>
<rect x="691.43" y="2188.87" width="72.17" height="9.13" fill="#00BFC4"/>
<text transform="translate(727.51 2148.33) scale(1 1.035)" font-size="34.6" fill="#000" stroke="#000" stroke-width="0.27" text-anchor="middle">1.1</text>
<rect x="771.62" y="2153.14" width="72.17" height="44.86" fill="#F8766D"/>
<rect x="771.62" y="2188.87" width="72.17" height="9.13" fill="#00BFC4"/>
<text transform="translate(807.7 2147.14) scale(1 1.035)" font-size="34.6" fill="#000" stroke="#000" stroke-width="0.27" text-anchor="middle">1.1</text>
<rect x="851.8" y="2151.95" width="72.17" height="46.05" fill="#F8766D"/>
<rect x="851.8" y="2189.27" width="72.17" height="8.73" fill="#00BFC4"/>
<text transform="translate(887.89 2145.95) scale(1 1.035)" font-size="34.6" fill="#000" stroke="#000" stroke-width="0.27" text-anchor="middle">1.2</text>
<rect x="680.33" y="2074.12" width="254.75" height="129.05" fill="none" stroke="#333333" stroke-width="1.85"/>
<rect x="679.4" y="2012.8" width="256.6" height="60.4" fill="#D9D9D9"/>
<rect x="680.33" y="2013.72" width="254.75" height="58.55" fill="none" stroke="#333333" stroke-width="1.85"/>
<line x1="679.4" y1="2073.2" x2="936" y2="2073.2" stroke="#333333" stroke-width="3.4"/>
<text x="807.7" y="2054.35" font-size="31.7" fill="#1A1A1A" stroke="#1A1A1A" stroke-width="0.25" text-anchor="middle">StringTie2</text>
<rect x="954.7" y="2073.2" width="256.6" height="130.9" fill="#fff"/>
<line x1="954.7" y1="2178.15" x2="1211.3" y2="2178.15" stroke="#EBEBEB" stroke-width="1.85"/>
<line x1="954.7" y1="2138.45" x2="1211.3" y2="2138.45" stroke="#EBEBEB" stroke-width="1.85"/>
<line x1="954.7" y1="2098.75" x2="1211.3" y2="2098.75" stroke="#EBEBEB" stroke-width="1.85"/>
<line x1="954.7" y1="2198" x2="1211.3" y2="2198" stroke="#EBEBEB" stroke-width="3.7"/>
<line x1="954.7" y1="2158.3" x2="1211.3" y2="2158.3" stroke="#EBEBEB" stroke-width="3.7"/>
<line x1="954.7" y1="2118.6" x2="1211.3" y2="2118.6" stroke="#EBEBEB" stroke-width="3.7"/>
<line x1="954.7" y1="2078.9" x2="1211.3" y2="2078.9" stroke="#EBEBEB" stroke-width="3.7"/>
<line x1="1002.81" y1="2073.2" x2="1002.81" y2="2204.1" stroke="#EBEBEB" stroke-width="3.7"/>
<line x1="1083" y1="2073.2" x2="1083" y2="2204.1" stroke="#EBEBEB" stroke-width="3.7"/>
<line x1="1163.19" y1="2073.2" x2="1163.19" y2="2204.1" stroke="#EBEBEB" stroke-width="3.7"/>
<rect x="966.73" y="2156.32" width="72.17" height="41.68" fill="#F8766D"/>
<rect x="966.73" y="2188.07" width="72.17" height="9.93" fill="#00BFC4"/>
<text transform="translate(1002.81 2150.32) scale(1 1.035)" font-size="34.6" fill="#000" stroke="#000" stroke-width="0.27" text-anchor="middle">1</text>
<rect x="1046.92" y="2155.92" width="72.17" height="42.08" fill="#F8766D"/>
<rect x="1046.92" y="2190.06" width="72.17" height="7.94" fill="#00BFC4"/>
<text transform="translate(1083 2149.92) scale(1 1.035)" font-size="34.6" fill="#000" stroke="#000" stroke-width="0.27" text-anchor="middle">1.1</text>
<rect x="1127.1" y="2155.52" width="72.17" height="42.48" fill="#F8766D"/>
<rect x="1127.1" y="2191.25" width="72.17" height="6.75" fill="#00BFC4"/>
<text transform="translate(1163.19 2149.52) scale(1 1.035)" font-size="34.6" fill="#000" stroke="#000" stroke-width="0.27" text-anchor="middle">1.1</text>
<rect x="955.62" y="2074.12" width="254.75" height="129.05" fill="none" stroke="#333333" stroke-width="1.85"/>
<rect x="954.7" y="2012.8" width="256.6" height="60.4" fill="#D9D9D9"/>
<rect x="955.62" y="2013.72" width="254.75" height="58.55" fill="none" stroke="#333333" stroke-width="1.85"/>
<line x1="954.7" y1="2073.2" x2="1211.3" y2="2073.2" stroke="#333333" stroke-width="3.4"/>
<text x="1083" y="2054.35" font-size="31.7" fill="#1A1A1A" stroke="#1A1A1A" stroke-width="0.25" text-anchor="middle">StringTie2_GTF</text>
<rect x="1230" y="2073.2" width="256.6" height="130.9" fill="#fff"/>
<line x1="1230" y1="2178.15" x2="1486.6" y2="2178.15" stroke="#EBEBEB" stroke-width="1.85"/>
<line x1="1230" y1="2138.45" x2="1486.6" y2="2138.45" stroke="#EBEBEB" stroke-width="1.85"/>
<line x1="1230" y1="2098.75" x2="1486.6" y2="2098.75" stroke="#EBEBEB" stroke-width="1.85"/>
<line x1="1230" y1="2198" x2="1486.6" y2="2198" stroke="#EBEBEB" stroke-width="3.7"/>
<line x1="1230" y1="2158.3" x2="1486.6" y2="2158.3" stroke="#EBEBEB" stroke-width="3.7"/>
<line x1="1230" y1="2118.6" x2="1486.6" y2="2118.6" stroke="#EBEBEB" stroke-width="3.7"/>
<line x1="1230" y1="2078.9" x2="1486.6" y2="2078.9" stroke="#EBEBEB" stroke-width="3.7"/>
<line x1="1278.11" y1="2073.2" x2="1278.11" y2="2204.1" stroke="#EBEBEB" stroke-width="3.7"/>
<line x1="1358.3" y1="2073.2" x2="1358.3" y2="2204.1" stroke="#EBEBEB" stroke-width="3.7"/>
<line x1="1438.49" y1="2073.2" x2="1438.49" y2="2204.1" stroke="#EBEBEB" stroke-width="3.7"/>
<rect x="1242.03" y="2135.08" width="72.17" height="62.92" fill="#F8766D"/>
<rect x="1242.03" y="2157.9" width="72.17" height="40.1" fill="#00BFC4"/>
<text transform="translate(1278.11 2129.08) scale(1 1.035)" font-size="34.6" fill="#000" stroke="#000" stroke-width="0.27" text-anchor="middle">1.6</text>
<rect x="1322.22" y="2128.33" width="72.17" height="69.67" fill="#F8766D"/>
<rect x="1322.22" y="2151.95" width="72.17" height="46.05" fill="#00BFC4"/>
<text transform="translate(1358.3 2122.33) scale(1 1.035)" font-size="34.6" fill="#000" stroke="#000" stroke-width="0.27" text-anchor="middle">1.7</text>
<rect x="1402.4" y="2124.55" width="72.17" height="73.45" fill="#F8766D"/>
<rect x="1402.4" y="2148.57" width="72.17" height="49.43" fill="#00BFC4"/>
<text transform="translate(1438.49 2118.55) scale(1 1.035)" font-size="34.6" fill="#000" stroke="#000" stroke-width="0.27" text-anchor="middle">1.8</text>
<rect x="1230.92" y="2074.12" width="254.75" height="129.05" fill="none" stroke="#333333" stroke-width="1.85"/>
<rect x="1230" y="2012.8" width="256.6" height="60.4" fill="#D9D9D9"/>
<rect x="1230.92" y="2013.72" width="254.75" height="58.55" fill="none" stroke="#333333" stroke-width="1.85"/>
<line x1="1230" y1="2073.2" x2="1486.6" y2="2073.2" stroke="#333333" stroke-width="3.4"/>
<text transform="translate(1358.3 2054.35) scale(1 1.045)" font-size="31.7" fill="#1A1A1A" stroke="#1A1A1A" stroke-width="0.25" text-anchor="middle">FLAIR</text>
<rect x="1486.6" y="2073.2" width="60" height="130.9" fill="#D9D9D9"/>
<rect x="1487.52" y="2074.12" width="58.15" height="129.05" fill="none" stroke="#333333" stroke-width="1.85"/>
<line x1="1486.6" y1="2073.2" x2="1486.6" y2="2204.1" stroke="#333333" stroke-width="3.4"/>
<text transform="translate(1504.65 2138.65) rotate(90)" font-size="31.7" fill="#1A1A1A" stroke="#1A1A1A" stroke-width="0.25" text-anchor="middle">cDNA</text>
<rect x="128.8" y="2222.9" width="256.6" height="131.3" fill="#fff"/>
<line x1="128.8" y1="2328.07" x2="385.4" y2="2328.07" stroke="#EBEBEB" stroke-width="1.85"/>
<line x1="128.8" y1="2288.39" x2="385.4" y2="2288.39" stroke="#EBEBEB" stroke-width="1.85"/>
<line x1="128.8" y1="2248.72" x2="385.4" y2="2248.72" stroke="#EBEBEB" stroke-width="1.85"/>
<line x1="128.8" y1="2347.9" x2="385.4" y2="2347.9" stroke="#EBEBEB" stroke-width="3.7"/>
<line x1="128.8" y1="2308.23" x2="385.4" y2="2308.23" stroke="#EBEBEB" stroke-width="3.7"/>
<line x1="128.8" y1="2268.56" x2="385.4" y2="2268.56" stroke="#EBEBEB" stroke-width="3.7"/>
<line x1="128.8" y1="2228.89" x2="385.4" y2="2228.89" stroke="#EBEBEB" stroke-width="3.7"/>
<line x1="176.91" y1="2222.9" x2="176.91" y2="2354.2" stroke="#EBEBEB" stroke-width="3.7"/>
<line x1="257.1" y1="2222.9" x2="257.1" y2="2354.2" stroke="#EBEBEB" stroke-width="3.7"/>
<line x1="337.29" y1="2222.9" x2="337.29" y2="2354.2" stroke="#EBEBEB" stroke-width="3.7"/>
<rect x="140.83" y="2304.66" width="72.17" height="43.24" fill="#F8766D"/>
<rect x="140.83" y="2332.03" width="72.17" height="15.87" fill="#00BFC4"/>
<text transform="translate(176.91 2298.66) scale(1 1.035)" font-size="34.6" fill="#000" stroke="#000" stroke-width="0.27" text-anchor="middle">1.1</text>
<rect x="221.02" y="2297.52" width="72.17" height="50.38" fill="#F8766D"/>
<rect x="221.02" y="2329.26" width="72.17" height="18.64" fill="#00BFC4"/>
<text transform="translate(257.1 2291.52) scale(1 1.035)" font-size="34.6" fill="#000" stroke="#000" stroke-width="0.27" text-anchor="middle">1.3</text>
<rect x="301.2" y="2291.17" width="72.17" height="56.73" fill="#F8766D"/>
<rect x="301.2" y="2326.08" width="72.17" height="21.82" fill="#00BFC4"/>
<text transform="translate(337.29 2285.17) scale(1 1.035)" font-size="34.6" fill="#000" stroke="#000" stroke-width="0.27" text-anchor="middle">1.4</text>
<rect x="129.73" y="2223.83" width="254.75" height="129.45" fill="none" stroke="#333333" stroke-width="1.85"/>
<line x1="176.91" y1="2354.2" x2="176.91" y2="2363.7" stroke="#333333" stroke-width="3.7"/>
<text transform="translate(176.91 2393.8) scale(1 1.035)" font-size="31.5" fill="#4D4D4D" stroke="#4D4D4D" stroke-width="0.25" text-anchor="middle">2</text>
<line x1="257.1" y1="2354.2" x2="257.1" y2="2363.7" stroke="#333333" stroke-width="3.7"/>
<text transform="translate(257.1 2393.8) scale(1 1.035)" font-size="31.5" fill="#4D4D4D" stroke="#4D4D4D" stroke-width="0.25" text-anchor="middle">10</text>
<line x1="337.29" y1="2354.2" x2="337.29" y2="2363.7" stroke="#333333" stroke-width="3.7"/>
<text transform="translate(337.29 2393.8) scale(1 1.035)" font-size="31.5" fill="#4D4D4D" stroke="#4D4D4D" stroke-width="0.25" text-anchor="middle">18</text>
<line x1="119.3" y1="2347.9" x2="128.8" y2="2347.9" stroke="#333333" stroke-width="3.7"/>
<text transform="translate(111.1 2359.18) scale(1 1.035)" font-size="31.5" fill="#4D4D4D" stroke="#4D4D4D" stroke-width="0.25" text-anchor="end">0</text>
<line x1="119.3" y1="2308.23" x2="128.8" y2="2308.23" stroke="#333333" stroke-width="3.7"/>
<text transform="translate(111.1 2319.51) scale(1 1.035)" font-size="31.5" fill="#4D4D4D" stroke="#4D4D4D" stroke-width="0.25" text-anchor="end">1</text>
<line x1="119.3" y1="2268.56" x2="128.8" y2="2268.56" stroke="#333333" stroke-width="3.7"/>
<text transform="translate(111.1 2279.84) scale(1 1.035)" font-size="31.5" fill="#4D4D4D" stroke="#4D4D4D" stroke-width="0.25" text-anchor="end">2</text>
<line x1="119.3" y1="2228.89" x2="128.8" y2="2228.89" stroke="#333333" stroke-width="3.7"/>
<text transform="translate(111.1 2240.17) scale(1 1.035)" font-size="31.5" fill="#4D4D4D" stroke="#4D4D4D" stroke-width="0.25" text-anchor="end">3</text>
<rect x="404.1" y="2222.9" width="256.6" height="131.3" fill="#fff"/>
<line x1="404.1" y1="2328.07" x2="660.7" y2="2328.07" stroke="#EBEBEB" stroke-width="1.85"/>
<line x1="404.1" y1="2288.39" x2="660.7" y2="2288.39" stroke="#EBEBEB" stroke-width="1.85"/>
<line x1="404.1" y1="2248.72" x2="660.7" y2="2248.72" stroke="#EBEBEB" stroke-width="1.85"/>
<line x1="404.1" y1="2347.9" x2="660.7" y2="2347.9" stroke="#EBEBEB" stroke-width="3.7"/>
<line x1="404.1" y1="2308.23" x2="660.7" y2="2308.23" stroke="#EBEBEB" stroke-width="3.7"/>
<line x1="404.1" y1="2268.56" x2="660.7" y2="2268.56" stroke="#EBEBEB" stroke-width="3.7"/>
<line x1="404.1" y1="2228.89" x2="660.7" y2="2228.89" stroke="#EBEBEB" stroke-width="3.7"/>
<line x1="452.21" y1="2222.9" x2="452.21" y2="2354.2" stroke="#EBEBEB" stroke-width="3.7"/>
<line x1="532.4" y1="2222.9" x2="532.4" y2="2354.2" stroke="#EBEBEB" stroke-width="3.7"/>
<line x1="612.59" y1="2222.9" x2="612.59" y2="2354.2" stroke="#EBEBEB" stroke-width="3.7"/>
<rect x="416.13" y="2299.5" width="72.17" height="48.4" fill="#F8766D"/>
<rect x="416.13" y="2332.03" width="72.17" height="15.87" fill="#00BFC4"/>
<text transform="translate(452.21 2293.5) scale(1 1.035)" font-size="34.6" fill="#000" stroke="#000" stroke-width="0.27" text-anchor="middle">1.2</text>
<rect x="496.32" y="2285.62" width="72.17" height="62.28" fill="#F8766D"/>
<rect x="496.32" y="2320.13" width="72.17" height="27.77" fill="#00BFC4"/>
<text transform="translate(532.4 2279.62) scale(1 1.035)" font-size="34.6" fill="#000" stroke="#000" stroke-width="0.27" text-anchor="middle">1.6</text>
<rect x="576.5" y="2276.49" width="72.17" height="71.41" fill="#F8766D"/>
<rect x="576.5" y="2312.99" width="72.17" height="34.91" fill="#00BFC4"/>
<text transform="translate(612.59 2270.49) scale(1 1.035)" font-size="34.6" fill="#000" stroke="#000" stroke-width="0.27" text-anchor="middle">1.8</text>
<rect x="405.03" y="2223.83" width="254.75" height="129.45" fill="none" stroke="#333333" stroke-width="1.85"/>
<line x1="452.21" y1="2354.2" x2="452.21" y2="2363.7" stroke="#333333" stroke-width="3.7"/>
<text transform="translate(452.21 2393.8) scale(1 1.035)" font-size="31.5" fill="#4D4D4D" stroke="#4D4D4D" stroke-width="0.25" text-anchor="middle">2</text>
<line x1="532.4" y1="2354.2" x2="532.4" y2="2363.7" stroke="#333333" stroke-width="3.7"/>
<text transform="translate(532.4 2393.8) scale(1 1.035)" font-size="31.5" fill="#4D4D4D" stroke="#4D4D4D" stroke-width="0.25" text-anchor="middle">10</text>
<line x1="612.59" y1="2354.2" x2="612.59" y2="2363.7" stroke="#333333" stroke-width="3.7"/>
<text transform="translate(612.59 2393.8) scale(1 1.035)" font-size="31.5" fill="#4D4D4D" stroke="#4D4D4D" stroke-width="0.25" text-anchor="middle">18</text>
<rect x="679.4" y="2222.9" width="256.6" height="131.3" fill="#fff"/>
<line x1="679.4" y1="2328.07" x2="936" y2="2328.07" stroke="#EBEBEB" stroke-width="1.85"/>
<line x1="679.4" y1="2288.39" x2="936" y2="2288.39" stroke="#EBEBEB" stroke-width="1.85"/>
<line x1="679.4" y1="2248.72" x2="936" y2="2248.72" stroke="#EBEBEB" stroke-width="1.85"/>
<line x1="679.4" y1="2347.9" x2="936" y2="2347.9" stroke="#EBEBEB" stroke-width="3.7"/>
<line x1="679.4" y1="2308.23" x2="936" y2="2308.23" stroke="#EBEBEB" stroke-width="3.7"/>
<line x1="679.4" y1="2268.56" x2="936" y2="2268.56" stroke="#EBEBEB" stroke-width="3.7"/>
<line x1="679.4" y1="2228.89" x2="936" y2="2228.89" stroke="#EBEBEB" stroke-width="3.7"/>
<line x1="727.51" y1="2222.9" x2="727.51" y2="2354.2" stroke="#EBEBEB" stroke-width="3.7"/>
<line x1="807.7" y1="2222.9" x2="807.7" y2="2354.2" stroke="#EBEBEB" stroke-width="3.7"/>
<line x1="887.89" y1="2222.9" x2="887.89" y2="2354.2" stroke="#EBEBEB" stroke-width="3.7"/>
<rect x="691.43" y="2303.47" width="72.17" height="44.43" fill="#F8766D"/>
<rect x="691.43" y="2341.95" width="72.17" height="5.95" fill="#00BFC4"/>
<text transform="translate(727.51 2297.47) scale(1 1.035)" font-size="34.6" fill="#000" stroke="#000" stroke-width="0.27" text-anchor="middle">1.1</text>
<rect x="771.62" y="2299.9" width="72.17" height="48" fill="#F8766D"/>
<rect x="771.62" y="2342.15" width="72.17" height="5.75" fill="#00BFC4"/>
<text transform="translate(807.7 2293.9) scale(1 1.035)" font-size="34.6" fill="#000" stroke="#000" stroke-width="0.27" text-anchor="middle">1.2</text>
<rect x="851.8" y="2297.92" width="72.17" height="49.98" fill="#F8766D"/>
<rect x="851.8" y="2342.35" width="72.17" height="5.55" fill="#00BFC4"/>
<text transform="translate(887.89 2291.92) scale(1 1.035)" font-size="34.6" fill="#000" stroke="#000" stroke-width="0.27" text-anchor="middle">1.3</text>
<rect x="680.33" y="2223.83" width="254.75" height="129.45" fill="none" stroke="#333333" stroke-width="1.85"/>
<line x1="727.51" y1="2354.2" x2="727.51" y2="2363.7" stroke="#333333" stroke-width="3.7"/>
<text transform="translate(727.51 2393.8) scale(1 1.035)" font-size="31.5" fill="#4D4D4D" stroke="#4D4D4D" stroke-width="0.25" text-anchor="middle">2</text>
<line x1="807.7" y1="2354.2" x2="807.7" y2="2363.7" stroke="#333333" stroke-width="3.7"/>
<text transform="translate(807.7 2393.8) scale(1 1.035)" font-size="31.5" fill="#4D4D4D" stroke="#4D4D4D" stroke-width="0.25" text-anchor="middle">10</text>
<line x1="887.89" y1="2354.2" x2="887.89" y2="2363.7" stroke="#333333" stroke-width="3.7"/>
<text transform="translate(887.89 2393.8) scale(1 1.035)" font-size="31.5" fill="#4D4D4D" stroke="#4D4D4D" stroke-width="0.25" text-anchor="middle">18</text>
<rect x="954.7" y="2222.9" width="256.6" height="131.3" fill="#fff"/>
<line x1="954.7" y1="2328.07" x2="1211.3" y2="2328.07" stroke="#EBEBEB" stroke-width="1.85"/>
<line x1="954.7" y1="2288.39" x2="1211.3" y2="2288.39" stroke="#EBEBEB" stroke-width="1.85"/>
<line x1="954.7" y1="2248.72" x2="1211.3" y2="2248.72" stroke="#EBEBEB" stroke-width="1.85"/>
<line x1="954.7" y1="2347.9" x2="1211.3" y2="2347.9" stroke="#EBEBEB" stroke-width="3.7"/>
<line x1="954.7" y1="2308.23" x2="1211.3" y2="2308.23" stroke="#EBEBEB" stroke-width="3.7"/>
<line x1="954.7" y1="2268.56" x2="1211.3" y2="2268.56" stroke="#EBEBEB" stroke-width="3.7"/>
<line x1="954.7" y1="2228.89" x2="1211.3" y2="2228.89" stroke="#EBEBEB" stroke-width="3.7"/>
<line x1="1002.81" y1="2222.9" x2="1002.81" y2="2354.2" stroke="#EBEBEB" stroke-width="3.7"/>
<line x1="1083" y1="2222.9" x2="1083" y2="2354.2" stroke="#EBEBEB" stroke-width="3.7"/>
<line x1="1163.19" y1="2222.9" x2="1163.19" y2="2354.2" stroke="#EBEBEB" stroke-width="3.7"/>
<rect x="966.73" y="2305.45" width="72.17" height="42.45" fill="#F8766D"/>
<rect x="966.73" y="2341.55" width="72.17" height="6.35" fill="#00BFC4"/>
<text transform="translate(1002.81 2299.45) scale(1 1.035)" font-size="34.6" fill="#000" stroke="#000" stroke-width="0.27" text-anchor="middle">1.1</text>
<rect x="1046.92" y="2305.06" width="72.17" height="42.84" fill="#F8766D"/>
<rect x="1046.92" y="2343.54" width="72.17" height="4.36" fill="#00BFC4"/>
<text transform="translate(1083 2299.06) scale(1 1.035)" font-size="34.6" fill="#000" stroke="#000" stroke-width="0.27" text-anchor="middle">1.1</text>
<rect x="1127.1" y="2304.66" width="72.17" height="43.24" fill="#F8766D"/>
<rect x="1127.1" y="2344.13" width="72.17" height="3.77" fill="#00BFC4"/>
<text transform="translate(1163.19 2298.66) scale(1 1.035)" font-size="34.6" fill="#000" stroke="#000" stroke-width="0.27" text-anchor="middle">1.1</text>
<rect x="955.62" y="2223.83" width="254.75" height="129.45" fill="none" stroke="#333333" stroke-width="1.85"/>
<line x1="1002.81" y1="2354.2" x2="1002.81" y2="2363.7" stroke="#333333" stroke-width="3.7"/>
<text transform="translate(1002.81 2393.8) scale(1 1.035)" font-size="31.5" fill="#4D4D4D" stroke="#4D4D4D" stroke-width="0.25" text-anchor="middle">2</text>
<line x1="1083" y1="2354.2" x2="1083" y2="2363.7" stroke="#333333" stroke-width="3.7"/>
<text transform="translate(1083 2393.8) scale(1 1.035)" font-size="31.5" fill="#4D4D4D" stroke="#4D4D4D" stroke-width="0.25" text-anchor="middle">10</text>
<line x1="1163.19" y1="2354.2" x2="1163.19" y2="2363.7" stroke="#333333" stroke-width="3.7"/>
<text transform="translate(1163.19 2393.8) scale(1 1.035)" font-size="31.5" fill="#4D4D4D" stroke="#4D4D4D" stroke-width="0.25" text-anchor="middle">18</text>
<rect x="1230" y="2222.9" width="256.6" height="131.3" fill="#fff"/>
<line x1="1230" y1="2328.07" x2="1486.6" y2="2328.07" stroke="#EBEBEB" stroke-width="1.85"/>
<line x1="1230" y1="2288.39" x2="1486.6" y2="2288.39" stroke="#EBEBEB" stroke-width="1.85"/>
<line x1="1230" y1="2248.72" x2="1486.6" y2="2248.72" stroke="#EBEBEB" stroke-width="1.85"/>
<line x1="1230" y1="2347.9" x2="1486.6" y2="2347.9" stroke="#EBEBEB" stroke-width="3.7"/>
<line x1="1230" y1="2308.23" x2="1486.6" y2="2308.23" stroke="#EBEBEB" stroke-width="3.7"/>
<line x1="1230" y1="2268.56" x2="1486.6" y2="2268.56" stroke="#EBEBEB" stroke-width="3.7"/>
<line x1="1230" y1="2228.89" x2="1486.6" y2="2228.89" stroke="#EBEBEB" stroke-width="3.7"/>
<line x1="1278.11" y1="2222.9" x2="1278.11" y2="2354.2" stroke="#EBEBEB" stroke-width="3.7"/>
<line x1="1358.3" y1="2222.9" x2="1358.3" y2="2354.2" stroke="#EBEBEB" stroke-width="3.7"/>
<line x1="1438.49" y1="2222.9" x2="1438.49" y2="2354.2" stroke="#EBEBEB" stroke-width="3.7"/>
<rect x="1242.03" y="2295.14" width="72.17" height="52.76" fill="#F8766D"/>
<rect x="1242.03" y="2323.7" width="72.17" height="24.2" fill="#00BFC4"/>
<text transform="translate(1278.11 2289.14) scale(1 1.035)" font-size="34.6" fill="#000" stroke="#000" stroke-width="0.27" text-anchor="middle">1.3</text>
<rect x="1322.22" y="2284.82" width="72.17" height="63.08" fill="#F8766D"/>
<rect x="1322.22" y="2316.16" width="72.17" height="31.74" fill="#00BFC4"/>
<text transform="translate(1358.3 2278.82) scale(1 1.035)" font-size="34.6" fill="#000" stroke="#000" stroke-width="0.27" text-anchor="middle">1.6</text>
<rect x="1402.4" y="2277.68" width="72.17" height="70.22" fill="#F8766D"/>
<rect x="1402.4" y="2310.61" width="72.17" height="37.29" fill="#00BFC4"/>
<text transform="translate(1438.49 2271.68) scale(1 1.035)" font-size="34.6" fill="#000" stroke="#000" stroke-width="0.27" text-anchor="middle">1.8</text>
<rect x="1230.92" y="2223.83" width="254.75" height="129.45" fill="none" stroke="#333333" stroke-width="1.85"/>
<line x1="1278.11" y1="2354.2" x2="1278.11" y2="2363.7" stroke="#333333" stroke-width="3.7"/>
<text transform="translate(1278.11 2393.8) scale(1 1.035)" font-size="31.5" fill="#4D4D4D" stroke="#4D4D4D" stroke-width="0.25" text-anchor="middle">2</text>
<line x1="1358.3" y1="2354.2" x2="1358.3" y2="2363.7" stroke="#333333" stroke-width="3.7"/>
<text transform="translate(1358.3 2393.8) scale(1 1.035)" font-size="31.5" fill="#4D4D4D" stroke="#4D4D4D" stroke-width="0.25" text-anchor="middle">10</text>
<line x1="1438.49" y1="2354.2" x2="1438.49" y2="2363.7" stroke="#333333" stroke-width="3.7"/>
<text transform="translate(1438.49 2393.8) scale(1 1.035)" font-size="31.5" fill="#4D4D4D" stroke="#4D4D4D" stroke-width="0.25" text-anchor="middle">18</text>
<rect x="1486.6" y="2222.9" width="60" height="131.3" fill="#D9D9D9"/>
<rect x="1487.52" y="2223.83" width="58.15" height="129.45" fill="none" stroke="#333333" stroke-width="1.85"/>
<line x1="1486.6" y1="2222.9" x2="1486.6" y2="2354.2" stroke="#333333" stroke-width="3.4"/>
<text transform="translate(1504.65 2288.55) rotate(90)" font-size="31.7" fill="#1A1A1A" stroke="#1A1A1A" stroke-width="0.25" text-anchor="middle">dRNA</text>
<text x="807.7" y="2436.7" font-size="38.4" fill="#000" stroke="#000" stroke-width="0.3" text-anchor="middle">Read Count (million)</text>
<text transform="translate(77 2213.7) rotate(-90)" font-size="38.4" fill="#000" stroke="#000" stroke-width="0.3" text-anchor="middle">Redundancy</text>
<text x="0" y="2054" font-size="71" fill="#000" font-weight="bold">d</text>
<text x="1604" y="2157.5" font-size="38.86" fill="#000" stroke="#000" stroke-width="0.31">category</text>
<rect x="1606.5" y="2183" width="55.5" height="55.5" fill="#F8766D"/>
<text x="1683.7" y="2222.1" font-size="31.41" fill="#000" stroke="#000" stroke-width="0.25">complete</text>
<rect x="1606.5" y="2243.3" width="55.5" height="55.5" fill="#00BFC4"/>
<text x="1683.7" y="2282.4" font-size="31.41" fill="#000" stroke="#000" stroke-width="0.25">partial</text>
</g>
</svg>
</body>
</html>
